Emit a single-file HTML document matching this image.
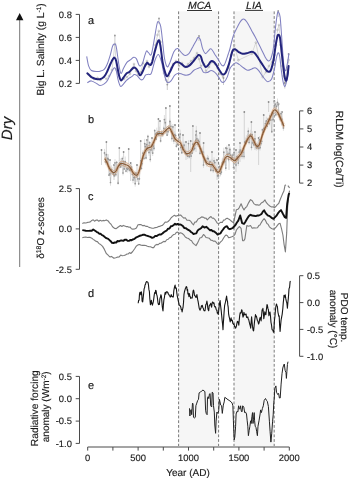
<!DOCTYPE html>
<html><head><meta charset="utf-8"><style>
html,body{margin:0;padding:0;background:#fff;width:350px;height:478px;overflow:hidden;}
svg{display:block;filter:blur(0.4px);}
text{text-rendering:geometricPrecision;font-family:"Liberation Sans",sans-serif;stroke:#1a1a1a;stroke-width:0.15px;}
</style></head><body>
<svg width="350" height="478" viewBox="0 0 350 478">
<rect x="178.6" y="11.4" width="40" height="434.6" fill="#f6f6f6"/>
<rect x="234" y="11.4" width="40.2" height="434.6" fill="#f6f6f6"/>
<line x1="178.6" y1="11.4" x2="178.6" y2="446" stroke="#7a7a7a" stroke-width="1" stroke-dasharray="2.8 1.9"/>
<line x1="218.6" y1="11.4" x2="218.6" y2="446" stroke="#7a7a7a" stroke-width="1" stroke-dasharray="2.8 1.9"/>
<line x1="234" y1="11.4" x2="234" y2="446" stroke="#7a7a7a" stroke-width="1" stroke-dasharray="2.8 1.9"/>
<line x1="274.2" y1="11.4" x2="274.2" y2="446" stroke="#7a7a7a" stroke-width="1" stroke-dasharray="2.8 1.9"/>
<path d="M88 74 L90.5 76.5 L94 79 L97.5 78 L100.5 80 L104 77 L106.5 79 L109 76 L112 70 L114.9 44 L116.5 70 L118.5 74 L121 80 L124 79 L127 77 L130 74 L132 69 L134 64 L136 71 L138 75 L141 72 L143 63 L145 65 L147 61 L149 67 L151 64 L153 57 L155.5 45 L157.5 35 L158.8 31 L160.5 42 L162 60 L164 73 L166 80 L167.5 82 L169 76 L171 68 L173 64 L176 61 L179 66 L182 63 L185 67 L188 64 L191 61 L194 58 L197 53 L199 59 L201 66 L204 64 L206 71 L209 67 L212 62 L215 64 L217.5 68 L220 74 L223 77 L226 72 L229 68 L231 55 L234.2 45.1 L238.4 60.2 L251.8 53.8 L255.9 42.6 L262.6 77 L266 72 L269 66 L272 62 L274.5 55 L276 45 L277.5 30 L279 25 L280.5 45 L282 66 L283.5 76 L285 83 L287 70 L288.5 60" fill="none" stroke="#c8c8c8" stroke-width="0.7"/>
<circle cx="88" cy="74" r="0.9" fill="none" stroke="#a0a0a0" stroke-width="0.5"/>
<circle cx="90.5" cy="76.5" r="0.9" fill="none" stroke="#a0a0a0" stroke-width="0.5"/>
<circle cx="94" cy="79" r="0.9" fill="none" stroke="#a0a0a0" stroke-width="0.5"/>
<circle cx="97.5" cy="78" r="0.9" fill="none" stroke="#a0a0a0" stroke-width="0.5"/>
<circle cx="100.5" cy="80" r="0.9" fill="none" stroke="#a0a0a0" stroke-width="0.5"/>
<circle cx="104" cy="77" r="0.9" fill="none" stroke="#a0a0a0" stroke-width="0.5"/>
<circle cx="106.5" cy="79" r="0.9" fill="none" stroke="#a0a0a0" stroke-width="0.5"/>
<circle cx="109" cy="76" r="0.9" fill="none" stroke="#a0a0a0" stroke-width="0.5"/>
<circle cx="112" cy="70" r="0.9" fill="none" stroke="#a0a0a0" stroke-width="0.5"/>
<circle cx="114.9" cy="44" r="0.9" fill="none" stroke="#a0a0a0" stroke-width="0.5"/>
<circle cx="116.5" cy="70" r="0.9" fill="none" stroke="#a0a0a0" stroke-width="0.5"/>
<circle cx="118.5" cy="74" r="0.9" fill="none" stroke="#a0a0a0" stroke-width="0.5"/>
<circle cx="121" cy="80" r="0.9" fill="none" stroke="#a0a0a0" stroke-width="0.5"/>
<circle cx="124" cy="79" r="0.9" fill="none" stroke="#a0a0a0" stroke-width="0.5"/>
<circle cx="127" cy="77" r="0.9" fill="none" stroke="#a0a0a0" stroke-width="0.5"/>
<circle cx="130" cy="74" r="0.9" fill="none" stroke="#a0a0a0" stroke-width="0.5"/>
<circle cx="132" cy="69" r="0.9" fill="none" stroke="#a0a0a0" stroke-width="0.5"/>
<circle cx="134" cy="64" r="0.9" fill="none" stroke="#a0a0a0" stroke-width="0.5"/>
<circle cx="136" cy="71" r="0.9" fill="none" stroke="#a0a0a0" stroke-width="0.5"/>
<circle cx="138" cy="75" r="0.9" fill="none" stroke="#a0a0a0" stroke-width="0.5"/>
<circle cx="141" cy="72" r="0.9" fill="none" stroke="#a0a0a0" stroke-width="0.5"/>
<circle cx="143" cy="63" r="0.9" fill="none" stroke="#a0a0a0" stroke-width="0.5"/>
<circle cx="145" cy="65" r="0.9" fill="none" stroke="#a0a0a0" stroke-width="0.5"/>
<circle cx="147" cy="61" r="0.9" fill="none" stroke="#a0a0a0" stroke-width="0.5"/>
<circle cx="149" cy="67" r="0.9" fill="none" stroke="#a0a0a0" stroke-width="0.5"/>
<circle cx="151" cy="64" r="0.9" fill="none" stroke="#a0a0a0" stroke-width="0.5"/>
<circle cx="153" cy="57" r="0.9" fill="none" stroke="#a0a0a0" stroke-width="0.5"/>
<circle cx="155.5" cy="45" r="0.9" fill="none" stroke="#a0a0a0" stroke-width="0.5"/>
<circle cx="157.5" cy="35" r="0.9" fill="none" stroke="#a0a0a0" stroke-width="0.5"/>
<circle cx="158.8" cy="31" r="0.9" fill="none" stroke="#a0a0a0" stroke-width="0.5"/>
<circle cx="160.5" cy="42" r="0.9" fill="none" stroke="#a0a0a0" stroke-width="0.5"/>
<circle cx="162" cy="60" r="0.9" fill="none" stroke="#a0a0a0" stroke-width="0.5"/>
<circle cx="164" cy="73" r="0.9" fill="none" stroke="#a0a0a0" stroke-width="0.5"/>
<circle cx="166" cy="80" r="0.9" fill="none" stroke="#a0a0a0" stroke-width="0.5"/>
<circle cx="167.5" cy="82" r="0.9" fill="none" stroke="#a0a0a0" stroke-width="0.5"/>
<circle cx="169" cy="76" r="0.9" fill="none" stroke="#a0a0a0" stroke-width="0.5"/>
<circle cx="171" cy="68" r="0.9" fill="none" stroke="#a0a0a0" stroke-width="0.5"/>
<circle cx="173" cy="64" r="0.9" fill="none" stroke="#a0a0a0" stroke-width="0.5"/>
<circle cx="176" cy="61" r="0.9" fill="none" stroke="#a0a0a0" stroke-width="0.5"/>
<circle cx="179" cy="66" r="0.9" fill="none" stroke="#a0a0a0" stroke-width="0.5"/>
<circle cx="182" cy="63" r="0.9" fill="none" stroke="#a0a0a0" stroke-width="0.5"/>
<circle cx="185" cy="67" r="0.9" fill="none" stroke="#a0a0a0" stroke-width="0.5"/>
<circle cx="188" cy="64" r="0.9" fill="none" stroke="#a0a0a0" stroke-width="0.5"/>
<circle cx="191" cy="61" r="0.9" fill="none" stroke="#a0a0a0" stroke-width="0.5"/>
<circle cx="194" cy="58" r="0.9" fill="none" stroke="#a0a0a0" stroke-width="0.5"/>
<circle cx="197" cy="53" r="0.9" fill="none" stroke="#a0a0a0" stroke-width="0.5"/>
<circle cx="199" cy="59" r="0.9" fill="none" stroke="#a0a0a0" stroke-width="0.5"/>
<circle cx="201" cy="66" r="0.9" fill="none" stroke="#a0a0a0" stroke-width="0.5"/>
<circle cx="204" cy="64" r="0.9" fill="none" stroke="#a0a0a0" stroke-width="0.5"/>
<circle cx="206" cy="71" r="0.9" fill="none" stroke="#a0a0a0" stroke-width="0.5"/>
<circle cx="209" cy="67" r="0.9" fill="none" stroke="#a0a0a0" stroke-width="0.5"/>
<circle cx="212" cy="62" r="0.9" fill="none" stroke="#a0a0a0" stroke-width="0.5"/>
<circle cx="215" cy="64" r="0.9" fill="none" stroke="#a0a0a0" stroke-width="0.5"/>
<circle cx="217.5" cy="68" r="0.9" fill="none" stroke="#a0a0a0" stroke-width="0.5"/>
<circle cx="220" cy="74" r="0.9" fill="none" stroke="#a0a0a0" stroke-width="0.5"/>
<circle cx="223" cy="77" r="0.9" fill="none" stroke="#a0a0a0" stroke-width="0.5"/>
<circle cx="226" cy="72" r="0.9" fill="none" stroke="#a0a0a0" stroke-width="0.5"/>
<circle cx="229" cy="68" r="0.9" fill="none" stroke="#a0a0a0" stroke-width="0.5"/>
<circle cx="231" cy="55" r="0.9" fill="none" stroke="#a0a0a0" stroke-width="0.5"/>
<circle cx="234.2" cy="45.1" r="0.9" fill="none" stroke="#a0a0a0" stroke-width="0.5"/>
<circle cx="238.4" cy="60.2" r="0.9" fill="none" stroke="#a0a0a0" stroke-width="0.5"/>
<circle cx="251.8" cy="53.8" r="0.9" fill="none" stroke="#a0a0a0" stroke-width="0.5"/>
<circle cx="255.9" cy="42.6" r="0.9" fill="none" stroke="#a0a0a0" stroke-width="0.5"/>
<circle cx="262.6" cy="77" r="0.9" fill="none" stroke="#a0a0a0" stroke-width="0.5"/>
<circle cx="266" cy="72" r="0.9" fill="none" stroke="#a0a0a0" stroke-width="0.5"/>
<circle cx="269" cy="66" r="0.9" fill="none" stroke="#a0a0a0" stroke-width="0.5"/>
<circle cx="272" cy="62" r="0.9" fill="none" stroke="#a0a0a0" stroke-width="0.5"/>
<circle cx="274.5" cy="55" r="0.9" fill="none" stroke="#a0a0a0" stroke-width="0.5"/>
<circle cx="276" cy="45" r="0.9" fill="none" stroke="#a0a0a0" stroke-width="0.5"/>
<circle cx="277.5" cy="30" r="0.9" fill="none" stroke="#a0a0a0" stroke-width="0.5"/>
<circle cx="279" cy="25" r="0.9" fill="none" stroke="#a0a0a0" stroke-width="0.5"/>
<circle cx="280.5" cy="45" r="0.9" fill="none" stroke="#a0a0a0" stroke-width="0.5"/>
<circle cx="282" cy="66" r="0.9" fill="none" stroke="#a0a0a0" stroke-width="0.5"/>
<circle cx="283.5" cy="76" r="0.9" fill="none" stroke="#a0a0a0" stroke-width="0.5"/>
<circle cx="285" cy="83" r="0.9" fill="none" stroke="#a0a0a0" stroke-width="0.5"/>
<circle cx="287" cy="70" r="0.9" fill="none" stroke="#a0a0a0" stroke-width="0.5"/>
<circle cx="288.5" cy="60" r="0.9" fill="none" stroke="#a0a0a0" stroke-width="0.5"/>
<line x1="114.9" y1="35.5" x2="114.9" y2="44" stroke="#c4c4c4" stroke-width="0.9"/>
<circle cx="114.9" cy="35.5" r="0.9" fill="#999"/>
<line x1="159" y1="18.5" x2="159" y2="24" stroke="#c4c4c4" stroke-width="0.9"/>
<circle cx="159" cy="18.5" r="0.9" fill="#999"/>
<line x1="167.3" y1="84.5" x2="167.3" y2="90" stroke="#c4c4c4" stroke-width="0.9"/>
<circle cx="167.3" cy="84.5" r="0.9" fill="#999"/>
<line x1="223.5" y1="78" x2="223.5" y2="85" stroke="#c4c4c4" stroke-width="0.9"/>
<circle cx="223.5" cy="78" r="0.9" fill="#999"/>
<line x1="284.8" y1="83" x2="284.8" y2="88.5" stroke="#c4c4c4" stroke-width="0.9"/>
<circle cx="284.8" cy="83" r="0.9" fill="#999"/>
<line x1="288.6" y1="54" x2="288.6" y2="63.4" stroke="#c4c4c4" stroke-width="0.9"/>
<circle cx="288.6" cy="54" r="0.9" fill="#999"/>
<line x1="278.2" y1="11" x2="278.2" y2="17" stroke="#c4c4c4" stroke-width="0.9"/>
<circle cx="278.2" cy="11" r="0.9" fill="#999"/>
<line x1="199" y1="36" x2="199" y2="41" stroke="#c4c4c4" stroke-width="0.9"/>
<circle cx="199" cy="36" r="0.9" fill="#999"/>
<path d="M86.7 56.4 C87 58 87.8 63.4 88.6 65.8 C89.4 68.1 90 69.5 91.4 70.5 C92.8 71.5 95.6 71.4 97 71.5 C98.4 71.6 98.8 71.7 100 71.3 C101.2 70.9 103 70.5 104.2 69.3 C105.4 68.1 106.3 66.5 107.3 64 C108.3 61.5 109.5 57.6 110.4 54.6 C111.3 51.6 111.9 48 112.5 46.3 C113.1 44.6 113.6 44.5 114.1 44.2 C114.6 43.9 115.3 43.8 115.7 44.7 C116.1 45.6 116.3 46.7 116.7 49.4 C117.1 52.1 117.8 57.4 118.3 60.9 C118.8 64.4 119.4 68.2 119.9 70.3 C120.4 72.4 120.8 73.7 121.4 73.4 C122 73.1 122.5 70.3 123.4 68.5 C124.3 66.7 125.8 63.8 126.9 62.4 C128.1 61 129.2 60.8 130.3 59.9 C131.4 59 132.7 57.5 133.7 57.3 C134.7 57.1 135.4 57.3 136.3 58.6 C137.2 59.9 138.2 63.8 138.9 65 C139.6 66.2 140 66.2 140.6 65.9 C141.2 65.6 142 64.7 142.7 62.9 C143.4 61.1 144.2 57.1 144.9 55.1 C145.6 53.1 146 51.3 146.6 50.9 C147.2 50.5 147.7 52.1 148.5 52.7 C149.3 53.3 150.4 56.5 151.3 54.5 C152.2 52.5 153.2 45.4 154.1 40.4 C155 35.4 156.2 27.6 156.9 24.5 C157.6 21.4 157.8 21.3 158.4 21.6 C159 21.9 160 23 160.7 26.3 C161.4 29.6 162 36.1 162.6 41.4 C163.2 46.7 163.7 54.1 164.5 58.3 C165.3 62.5 166.4 66.2 167.3 66.8 C168.2 67.4 169 64.6 170.1 62.1 C171.2 59.6 172.7 54 173.9 51.7 C175.2 49.4 176.3 48.3 177.6 48.5 C178.8 48.7 180.2 51.5 181.4 52.7 C182.7 53.9 183.8 55.4 185.1 55.5 C186.3 55.6 187.6 55 188.9 53.6 C190.2 52.2 191.4 49.2 192.7 47 C193.9 44.8 195.5 42 196.4 40.4 C197.3 38.8 197.3 37.8 198 37.6 C198.7 37.5 199.5 37.6 200.3 39.5 C201.1 41.4 201.8 46.5 202.7 48.9 C203.6 51.2 204.6 53.3 205.5 53.6 C206.4 53.9 207.4 51.6 208.3 50.8 C209.2 50 210.1 48.3 211.2 48.9 C212.3 49.5 213.7 52.6 214.9 54.5 C216.2 56.4 217.6 58.5 218.7 60.2 C219.8 61.9 220.6 64.1 221.5 64.9 C222.4 65.7 223.2 66.6 224.3 64.9 C225.4 63.2 227.2 57.2 228.1 54.5 C229 51.8 229.3 51.2 230 48.5 C230.7 45.8 231.8 41 232.5 38.5 C233.2 36 233.5 35.1 234.2 33.4 C234.9 31.7 235.9 30.1 236.7 28.4 C237.5 26.7 238.4 24.8 239.2 23.4 C240 22 240.9 20.7 241.7 20 C242.5 19.3 243.4 18.9 244.2 19.2 C245 19.5 245.9 20.6 246.7 21.7 C247.5 22.8 248.3 24.4 249.2 25.9 C250 27.4 250.8 29.1 251.8 30.9 C252.8 32.7 254 34.7 255.1 36.8 C256.2 38.9 257.4 41.3 258.5 43.5 C259.6 45.7 260.7 48 261.8 50.2 C262.9 52.4 264.1 55.1 265.1 56.9 C266.1 58.7 267.1 60.4 268 60.8 C268.9 61.2 269.8 60.8 270.5 59.5 C271.2 58.2 271.9 55.4 272.5 53 C273.1 50.6 273.3 49.1 273.8 45 C274.3 40.9 274.8 33.4 275.4 28.2 C276 23.1 276.8 16.8 277.3 14.1 C277.8 11.4 278.1 11.7 278.6 12.2 C279.1 12.7 279.6 13 280.1 16.9 C280.6 20.8 281.1 29.4 281.6 35.7 C282.1 42 282.5 49.2 282.9 54.5 C283.3 59.8 283.7 65 284.2 67.7 C284.7 70.4 285.1 71.4 285.7 70.5 C286.3 69.6 287.1 64.9 287.6 62.1 C288.1 59.3 288.7 55 288.9 53.6" fill="none" stroke="#8080c0" stroke-width="1.05" stroke-linejoin="round"/>
<path d="M87.3 82.8 C88 82.5 89.8 80.8 91.4 80.9 C93 81.1 95.6 82.9 97 83.7 C98.4 84.5 98.8 85.5 100 85.5 C101.2 85.5 103 84.7 104.2 83.9 C105.4 83.1 106.3 82.4 107.3 80.8 C108.3 79.2 109.4 76.4 110.4 74.5 C111.4 72.6 112.4 70.4 113.1 69.3 C113.8 68.2 114.1 67.5 114.6 67.7 C115.1 67.9 115.7 68.5 116.2 70.3 C116.7 72.1 117.3 76.4 117.8 78.7 C118.3 81 118.8 82.6 119.3 83.9 C119.8 85.2 120.1 86.4 120.8 86.4 C121.5 86.4 122.7 84.9 123.6 83.9 C124.5 82.9 125.5 81.4 126.4 80.4 C127.4 79.4 128.4 78.8 129.3 78.1 C130.2 77.4 131.3 77 132.1 76.4 C132.9 75.8 133.4 74.7 134.2 74.6 C135 74.5 136 74.9 137.1 75.7 C138.2 76.5 139.6 79 140.6 79.6 C141.6 80.2 142.2 79.9 143.1 79.1 C143.9 78.3 144.8 75.7 145.7 74.9 C146.6 74.1 147.6 74.6 148.5 74.3 C149.4 74 150.2 75.6 151.3 73.3 C152.4 71 153.8 63.3 155 60.2 C156.2 57.1 157.3 54.2 158.4 54.5 C159.5 54.8 160.8 59.3 161.6 62.1 C162.4 64.9 162.7 68.4 163.5 71.5 C164.3 74.6 165.5 79 166.3 80.9 C167.1 82.8 167.4 82.8 168.2 82.8 C169 82.8 169.9 82.2 171 80.9 C172.1 79.6 173.5 76.5 174.8 75.2 C176.1 73.9 177.3 73.5 178.6 73.3 C179.8 73.1 181.1 74 182.3 74.3 C183.6 74.6 184.8 75.2 186.1 75.2 C187.3 75.2 188.6 75.1 189.8 74.3 C191.1 73.5 192.3 71.5 193.6 70.5 C194.9 69.5 196.2 69.1 197.4 68.6 C198.6 68.1 199.8 67.1 200.8 67.7 C201.8 68.3 202.5 71.6 203.6 72.4 C204.7 73.2 206.1 72.7 207.4 72.4 C208.7 72.1 209.9 70.5 211.2 70.5 C212.4 70.5 213.7 71.3 214.9 72.4 C216.2 73.5 217.6 75.5 218.7 77.1 C219.8 78.7 220.6 81 221.5 81.8 C222.4 82.6 223.4 82.6 224.3 81.8 C225.2 81 226.2 79.3 227.2 77.1 C228.1 74.9 229.1 70.6 230 68.6 C230.9 66.6 231.5 66.2 232.5 65.2 C233.5 64.2 234.8 62.8 235.9 62.7 C237 62.6 237.9 63.6 239.2 64.4 C240.4 65.2 242 66.7 243.4 67.7 C244.8 68.7 246.2 70.1 247.6 70.3 C249 70.5 250.6 69.3 251.8 68.9 C253.1 68.5 254 67.5 255.1 67.7 C256.2 67.9 257.4 69 258.5 70.3 C259.6 71.6 260.7 73.8 261.8 75.3 C262.9 76.8 264.1 78.4 265.1 79.5 C266.1 80.6 266.8 81.9 267.9 81.8 C269 81.7 270.5 81.2 271.6 79 C272.7 76.8 273.7 72 274.5 68.6 C275.3 65.1 275.7 60.9 276.3 58.3 C276.9 55.6 277.6 53 278.2 52.7 C278.8 52.4 279.2 53.9 279.7 56.4 C280.2 58.9 280.5 63.6 281 67.7 C281.5 71.8 282.3 77.8 282.9 80.9 C283.5 84 284.2 86.5 284.8 86.5 C285.4 86.5 286.1 83.4 286.7 80.9 C287.3 78.4 288.3 73.1 288.6 71.5" fill="none" stroke="#8080c0" stroke-width="1.05" stroke-linejoin="round"/>
<path d="M87.3 73.3 C88 73.9 90 76.1 91.4 77.1 C92.9 78 94.6 78.7 96 79 C97.4 79.3 98.6 79.6 100 79.2 C101.4 78.8 103 77.9 104.2 76.6 C105.4 75.3 106.3 73.4 107.3 71.3 C108.3 69.2 109.4 66.1 110.4 64 C111.4 61.9 112.4 59.8 113.1 58.8 C113.8 57.8 114.1 57.4 114.6 57.8 C115.1 58.1 115.7 59 116.2 60.9 C116.7 62.8 117.3 66.7 117.8 69.3 C118.3 71.9 118.8 74.8 119.3 76.6 C119.8 78.4 120.4 80.3 121.1 80.4 C121.8 80.5 122.7 78.4 123.6 77.3 C124.5 76.2 125.5 74.5 126.4 73.6 C127.4 72.7 128.4 72.7 129.3 71.9 C130.2 71.1 131.3 69.7 132.1 69 C132.9 68.3 133.3 67.6 133.9 67.5 C134.5 67.4 135.2 67.8 135.9 68.4 C136.6 69.1 137.3 70.2 138 71.4 C138.7 72.6 139.4 75.2 140.1 75.3 C140.8 75.4 141.5 73.8 142.3 72.3 C143.1 70.8 144.1 67.9 144.9 66.3 C145.7 64.7 146.4 63.3 147 62.9 C147.6 62.5 148.1 63.7 148.7 64.1 C149.3 64.4 149.9 65.3 150.5 65 C151.1 64.7 151.4 64.5 152.2 62.1 C152.9 59.7 154 54.4 155 50.8 C156 47.2 157.5 41.3 158.4 40.4 C159.3 39.5 159.6 41.5 160.3 45.1 C161 48.7 161.8 57.4 162.6 62.1 C163.4 66.8 164.6 71 165.4 73.3 C166.2 75.6 166.5 76.5 167.3 76.2 C168.1 75.9 169 73.5 170.1 71.5 C171.2 69.5 172.7 65.5 173.9 63.9 C175.2 62.3 176.3 62.1 177.6 62.1 C178.8 62.1 180.2 63.1 181.4 63.9 C182.7 64.7 183.8 66.5 185.1 66.8 C186.3 67.1 187.6 66.6 188.9 65.8 C190.2 65 191.4 63.5 192.7 62.1 C193.9 60.7 195.4 58.6 196.4 57.4 C197.4 56.2 197.8 55.2 198.5 55 C199.2 54.8 200.1 55.2 200.8 56.4 C201.5 57.6 201.9 60.4 202.7 62.1 C203.5 63.8 204.6 66.3 205.5 66.8 C206.4 67.3 207.4 65.9 208.3 64.9 C209.2 64 210.2 61.6 211.2 61.1 C212.1 60.6 213.1 61.3 214 62.1 C214.9 62.9 215.9 64.4 216.8 65.8 C217.7 67.2 218.7 69.1 219.6 70.5 C220.5 71.9 221.4 73.8 222.4 74.3 C223.4 74.8 224.2 75 225.3 73.3 C226.4 71.6 227.8 67.6 229 63.9 C230.2 60.2 231.5 53.4 232.5 51 C233.5 48.6 234 49.2 235 49.3 C236 49.4 237.1 51 238.4 51.8 C239.7 52.5 241.2 53.6 242.6 53.8 C244 54 245.2 53.5 246.7 53.2 C248.2 52.9 250.4 51.8 251.8 51.8 C253.2 51.8 254 52.4 255.1 53.5 C256.2 54.6 257.4 56.8 258.5 58.5 C259.6 60.2 260.7 61.9 261.8 63.6 C262.9 65.3 264.1 67.3 265.1 68.6 C266.1 69.9 267 71.2 267.9 71.5 C268.8 71.8 269.8 72.4 270.7 70.5 C271.6 68.6 272.7 64.1 273.5 60.2 C274.3 56.3 274.8 50.9 275.4 47 C276 43.1 276.8 38.7 277.3 36.7 C277.8 34.7 278.2 34.6 278.6 34.8 C279.1 34.9 279.5 34.9 280 37.6 C280.5 40.3 281 46.4 281.5 50.8 C282 55.2 282.5 59.8 283 64 C283.5 68.2 284 73.2 284.5 76 C285 78.8 285.4 80.7 285.9 80.8 C286.4 80.9 286.9 79 287.3 76.5 C287.8 74 288.4 67.8 288.6 66" fill="none" stroke="#23247c" stroke-width="2.0" stroke-linejoin="round" stroke-linecap="round"/>
<path d="M104.9 159 C105.2 159.6 106.2 161 106.9 162.4 C107.6 163.8 108.3 166.2 109.1 167.6 C109.8 169 110.6 170.2 111.4 171 C112.2 171.8 112.9 172.7 113.7 172.7 C114.5 172.7 115.2 172.1 116 171 C116.8 169.9 117.5 167.6 118.3 166.4 C119.1 165.2 119.8 164.1 120.6 163.6 C121.4 163.1 122.1 163.4 122.9 163.6 C123.8 163.8 124.8 164.3 125.7 164.7 C126.7 165.1 127.7 165.2 128.6 165.9 C129.5 166.6 130.2 167.6 130.9 168.7 C131.7 169.8 132.3 171.6 133.1 172.7 C133.8 173.8 134.6 174.7 135.4 175 C136.2 175.3 136.9 175.5 137.7 174.4 C138.5 173.3 139.2 171.2 140 168.3 C140.8 165.4 141.9 160.1 142.8 157.1 C143.7 154.1 144.7 152.1 145.6 150.5 C146.5 148.9 147.6 148.3 148.5 147.7 C149.4 147.1 150.4 147.8 151.3 146.7 C152.2 145.6 153.2 143.1 154.1 141.1 C155 139.1 156 135.8 156.9 134.5 C157.8 133.2 158.8 133.8 159.7 133.6 C160.6 133.4 161.6 134.1 162.6 133.6 C163.6 133.1 164.3 131.6 165.4 130.7 C166.5 129.8 168.1 127.6 169.2 127.9 C170.3 128.2 171.1 130.9 172 132.6 C172.9 134.3 173.9 136.9 174.8 138.3 C175.7 139.7 176.7 140.3 177.6 141.1 C178.5 141.9 179.4 141.6 180.4 143 C181.4 144.4 182.4 147.8 183.3 149.5 C184.2 151.2 185.2 152.7 186.1 153.3 C187 153.9 188 153.8 188.9 153.3 C189.8 152.8 190.8 152.1 191.7 150.5 C192.6 148.9 193.6 145.2 194.5 143.9 C195.4 142.6 196.3 141.6 197.4 142.5 C198.5 143.4 199.8 147.1 200.8 149.5 C201.8 151.9 202.7 154.9 203.6 157.1 C204.5 159.3 205.6 161.4 206.5 162.7 C207.4 163.9 208.4 164.3 209.3 164.6 C210.2 164.9 211.2 164 212.1 164.6 C213 165.2 214 167.1 214.9 168.3 C215.8 169.6 216.9 171.6 217.7 172.1 C218.5 172.6 218.8 172.4 219.6 171.2 C220.4 169.9 221.4 166.8 222.4 164.6 C223.4 162.4 224.4 159.4 225.3 158 C226.2 156.6 226.7 156.3 227.6 156.3 C228.5 156.3 229.7 157.2 230.9 158 C232.1 158.8 233.6 160.8 234.7 160.8 C235.8 160.8 236.4 159.2 237.5 158 C238.6 156.8 240.2 155.2 241.3 153.3 C242.4 151.4 243.3 148.7 244.2 146.6 C245.1 144.5 246 142.3 246.9 140.6 C247.8 138.9 248.8 137.3 249.5 136.6 C250.2 135.9 250.7 135.5 251.4 136.2 C252.1 136.9 253.1 139.4 253.8 140.8 C254.5 142.2 255 143.5 255.6 144.5 C256.2 145.5 256.7 146.6 257.3 146.6 C257.9 146.6 258.6 146.4 259.4 144.6 C260.2 142.8 261.3 138.2 262.2 135.5 C263.1 132.8 264.1 130.5 265 128.3 C265.9 126.1 266.9 124.5 267.9 122.5 C268.8 120.5 269.9 118.3 270.7 116.6 C271.5 114.9 272 113.4 272.6 112.3 C273.2 111.2 273.7 110.3 274.3 110 C274.9 109.7 275.6 110 276.2 110.6 C276.8 111.2 277.5 112.1 278.2 113.4 C278.9 114.7 279.8 116.7 280.5 118.2 C281.2 119.7 281.7 121 282.3 122.3 C282.9 123.6 283.6 125.4 283.9 126" fill="none" stroke="#fcf3ea" stroke-width="4.4"/>
<line x1="106.4" y1="142" x2="106.4" y2="155" stroke="#d0d0d0" stroke-width="0.9"/>
<circle cx="106.4" cy="142" r="0.9" fill="#8a8a8a"/>
<line x1="119.3" y1="148" x2="119.3" y2="161" stroke="#d0d0d0" stroke-width="0.9"/>
<circle cx="119.3" cy="148" r="0.9" fill="#8a8a8a"/>
<line x1="123.6" y1="152" x2="123.6" y2="159" stroke="#d0d0d0" stroke-width="0.9"/>
<circle cx="123.6" cy="152" r="0.9" fill="#8a8a8a"/>
<line x1="128.7" y1="149" x2="128.7" y2="164" stroke="#d0d0d0" stroke-width="0.9"/>
<circle cx="128.7" cy="149" r="0.9" fill="#8a8a8a"/>
<line x1="140.7" y1="141" x2="140.7" y2="161" stroke="#d0d0d0" stroke-width="0.9"/>
<circle cx="140.7" cy="141" r="0.9" fill="#8a8a8a"/>
<line x1="130.7" y1="163" x2="130.7" y2="181" stroke="#d0d0d0" stroke-width="0.9"/>
<circle cx="130.7" cy="163" r="0.9" fill="#8a8a8a"/>
<line x1="158.4" y1="119" x2="158.4" y2="132" stroke="#d0d0d0" stroke-width="0.9"/>
<circle cx="158.4" cy="119" r="0.9" fill="#8a8a8a"/>
<line x1="165.9" y1="108" x2="165.9" y2="129" stroke="#d0d0d0" stroke-width="0.9"/>
<circle cx="165.9" cy="108" r="0.9" fill="#8a8a8a"/>
<line x1="169.9" y1="106" x2="169.9" y2="126" stroke="#d0d0d0" stroke-width="0.9"/>
<circle cx="169.9" cy="106" r="0.9" fill="#8a8a8a"/>
<line x1="190.7" y1="141" x2="190.7" y2="172" stroke="#d0d0d0" stroke-width="0.9"/>
<circle cx="190.7" cy="141" r="0.9" fill="#8a8a8a"/>
<line x1="192.9" y1="126" x2="192.9" y2="146" stroke="#d0d0d0" stroke-width="0.9"/>
<circle cx="192.9" cy="126" r="0.9" fill="#8a8a8a"/>
<line x1="244.3" y1="112" x2="244.3" y2="144" stroke="#d0d0d0" stroke-width="0.9"/>
<circle cx="244.3" cy="112" r="0.9" fill="#8a8a8a"/>
<line x1="251.4" y1="122" x2="251.4" y2="135" stroke="#d0d0d0" stroke-width="0.9"/>
<circle cx="251.4" cy="122" r="0.9" fill="#8a8a8a"/>
<line x1="258.6" y1="138" x2="258.6" y2="165" stroke="#d0d0d0" stroke-width="0.9"/>
<circle cx="258.6" cy="138" r="0.9" fill="#8a8a8a"/>
<line x1="263.7" y1="115" x2="263.7" y2="132" stroke="#d0d0d0" stroke-width="0.9"/>
<circle cx="263.7" cy="115" r="0.9" fill="#8a8a8a"/>
<line x1="268.6" y1="102" x2="268.6" y2="112" stroke="#d0d0d0" stroke-width="0.9"/>
<circle cx="268.6" cy="102" r="0.9" fill="#8a8a8a"/>
<line x1="274.3" y1="101" x2="274.3" y2="106" stroke="#d0d0d0" stroke-width="0.9"/>
<circle cx="274.3" cy="101" r="0.9" fill="#8a8a8a"/>
<line x1="278.6" y1="104" x2="278.6" y2="112" stroke="#d0d0d0" stroke-width="0.9"/>
<circle cx="278.6" cy="104" r="0.9" fill="#8a8a8a"/>
<line x1="110" y1="160" x2="110" y2="176" stroke="#d0d0d0" stroke-width="0.9"/>
<circle cx="110" cy="160" r="0.9" fill="#8a8a8a"/>
<line x1="114" y1="165" x2="114" y2="180" stroke="#d0d0d0" stroke-width="0.9"/>
<circle cx="114" cy="165" r="0.9" fill="#8a8a8a"/>
<line x1="137" y1="165" x2="137" y2="182" stroke="#d0d0d0" stroke-width="0.9"/>
<circle cx="137" cy="165" r="0.9" fill="#8a8a8a"/>
<line x1="147" y1="140" x2="147" y2="152" stroke="#d0d0d0" stroke-width="0.9"/>
<circle cx="147" cy="140" r="0.9" fill="#8a8a8a"/>
<line x1="152" y1="138" x2="152" y2="150" stroke="#d0d0d0" stroke-width="0.9"/>
<circle cx="152" cy="138" r="0.9" fill="#8a8a8a"/>
<line x1="160" y1="121" x2="160" y2="130" stroke="#d0d0d0" stroke-width="0.9"/>
<circle cx="160" cy="121" r="0.9" fill="#8a8a8a"/>
<line x1="183" y1="135" x2="183" y2="150" stroke="#d0d0d0" stroke-width="0.9"/>
<circle cx="183" cy="135" r="0.9" fill="#8a8a8a"/>
<line x1="200" y1="133" x2="200" y2="150" stroke="#d0d0d0" stroke-width="0.9"/>
<circle cx="200" cy="133" r="0.9" fill="#8a8a8a"/>
<line x1="203.6" y1="143" x2="203.6" y2="159" stroke="#d0d0d0" stroke-width="0.9"/>
<circle cx="203.6" cy="143" r="0.9" fill="#8a8a8a"/>
<line x1="212" y1="152" x2="212" y2="170" stroke="#d0d0d0" stroke-width="0.9"/>
<circle cx="212" cy="152" r="0.9" fill="#8a8a8a"/>
<line x1="217" y1="160" x2="217" y2="180" stroke="#d0d0d0" stroke-width="0.9"/>
<circle cx="217" cy="160" r="0.9" fill="#8a8a8a"/>
<line x1="226" y1="148" x2="226" y2="166" stroke="#d0d0d0" stroke-width="0.9"/>
<circle cx="226" cy="148" r="0.9" fill="#8a8a8a"/>
<line x1="229" y1="145" x2="229" y2="170" stroke="#d0d0d0" stroke-width="0.9"/>
<circle cx="229" cy="145" r="0.9" fill="#8a8a8a"/>
<line x1="236" y1="150" x2="236" y2="172" stroke="#d0d0d0" stroke-width="0.9"/>
<circle cx="236" cy="150" r="0.9" fill="#8a8a8a"/>
<line x1="240" y1="143" x2="240" y2="162" stroke="#d0d0d0" stroke-width="0.9"/>
<circle cx="240" cy="143" r="0.9" fill="#8a8a8a"/>
<line x1="255" y1="132" x2="255" y2="150" stroke="#d0d0d0" stroke-width="0.9"/>
<circle cx="255" cy="132" r="0.9" fill="#8a8a8a"/>
<line x1="282" y1="112" x2="282" y2="126" stroke="#d0d0d0" stroke-width="0.9"/>
<circle cx="282" cy="112" r="0.9" fill="#8a8a8a"/>
<line x1="101.5" y1="150" x2="101.5" y2="165" stroke="#d0d0d0" stroke-width="0.9"/>
<circle cx="101.5" cy="150" r="0.9" fill="#8a8a8a"/>
<line x1="175" y1="125" x2="175" y2="140" stroke="#d0d0d0" stroke-width="0.9"/>
<circle cx="175" cy="125" r="0.9" fill="#8a8a8a"/>
<line x1="186" y1="142" x2="186" y2="160" stroke="#d0d0d0" stroke-width="0.9"/>
<circle cx="186" cy="142" r="0.9" fill="#8a8a8a"/>
<line x1="196" y1="135" x2="196" y2="152" stroke="#d0d0d0" stroke-width="0.9"/>
<circle cx="196" cy="135" r="0.9" fill="#8a8a8a"/>
<line x1="104.5" y1="148.9" x2="104.5" y2="155.3" stroke="#d6d6d6" stroke-width="0.8"/>
<line x1="105.5" y1="157.5" x2="105.5" y2="164.6" stroke="#d6d6d6" stroke-width="0.8"/>
<line x1="106.3" y1="150" x2="106.3" y2="157.5" stroke="#d6d6d6" stroke-width="0.8"/>
<line x1="106.9" y1="156.9" x2="106.9" y2="165.3" stroke="#d6d6d6" stroke-width="0.8"/>
<line x1="107.7" y1="153.9" x2="107.7" y2="161" stroke="#d6d6d6" stroke-width="0.8"/>
<line x1="108.3" y1="154.2" x2="108.3" y2="162.5" stroke="#d6d6d6" stroke-width="0.8"/>
<line x1="109" y1="173.5" x2="109" y2="176.1" stroke="#d6d6d6" stroke-width="0.8"/>
<line x1="109.9" y1="170.4" x2="109.9" y2="175.8" stroke="#d6d6d6" stroke-width="0.8"/>
<line x1="110.5" y1="177.3" x2="110.5" y2="185.7" stroke="#d6d6d6" stroke-width="0.8"/>
<line x1="111.4" y1="165.4" x2="111.4" y2="172" stroke="#d6d6d6" stroke-width="0.8"/>
<line x1="112.2" y1="167" x2="112.2" y2="175.2" stroke="#d6d6d6" stroke-width="0.8"/>
<line x1="113.1" y1="171" x2="113.1" y2="174.1" stroke="#d6d6d6" stroke-width="0.8"/>
<line x1="113.6" y1="170.6" x2="113.6" y2="176" stroke="#d6d6d6" stroke-width="0.8"/>
<line x1="114.2" y1="173.3" x2="114.2" y2="177.3" stroke="#d6d6d6" stroke-width="0.8"/>
<line x1="115" y1="159.1" x2="115" y2="165" stroke="#d6d6d6" stroke-width="0.8"/>
<line x1="115.8" y1="170.9" x2="115.8" y2="176.9" stroke="#d6d6d6" stroke-width="0.8"/>
<line x1="116.7" y1="160.7" x2="116.7" y2="163.2" stroke="#d6d6d6" stroke-width="0.8"/>
<line x1="117.4" y1="165.8" x2="117.4" y2="169.5" stroke="#d6d6d6" stroke-width="0.8"/>
<line x1="118.1" y1="180.6" x2="118.1" y2="184.8" stroke="#d6d6d6" stroke-width="0.8"/>
<line x1="119.1" y1="160" x2="119.1" y2="168.3" stroke="#d6d6d6" stroke-width="0.8"/>
<line x1="120" y1="158.3" x2="120" y2="165.6" stroke="#d6d6d6" stroke-width="0.8"/>
<line x1="120.7" y1="164.8" x2="120.7" y2="168.2" stroke="#d6d6d6" stroke-width="0.8"/>
<line x1="121.3" y1="159.4" x2="121.3" y2="166.9" stroke="#d6d6d6" stroke-width="0.8"/>
<line x1="122.3" y1="156.5" x2="122.3" y2="159.8" stroke="#d6d6d6" stroke-width="0.8"/>
<line x1="123" y1="169" x2="123" y2="175.4" stroke="#d6d6d6" stroke-width="0.8"/>
<line x1="123.6" y1="159.3" x2="123.6" y2="162.5" stroke="#d6d6d6" stroke-width="0.8"/>
<line x1="124.2" y1="167.4" x2="124.2" y2="169.8" stroke="#d6d6d6" stroke-width="0.8"/>
<line x1="125.2" y1="156.5" x2="125.2" y2="164.5" stroke="#d6d6d6" stroke-width="0.8"/>
<line x1="126" y1="168.8" x2="126" y2="172.5" stroke="#d6d6d6" stroke-width="0.8"/>
<line x1="126.9" y1="166" x2="126.9" y2="169.7" stroke="#d6d6d6" stroke-width="0.8"/>
<line x1="127.6" y1="163.9" x2="127.6" y2="172.6" stroke="#d6d6d6" stroke-width="0.8"/>
<line x1="128.7" y1="163.3" x2="128.7" y2="171.3" stroke="#d6d6d6" stroke-width="0.8"/>
<line x1="129.6" y1="167.2" x2="129.6" y2="171.5" stroke="#d6d6d6" stroke-width="0.8"/>
<line x1="130.2" y1="165" x2="130.2" y2="173.6" stroke="#d6d6d6" stroke-width="0.8"/>
<line x1="130.8" y1="165.8" x2="130.8" y2="171.6" stroke="#d6d6d6" stroke-width="0.8"/>
<line x1="131.6" y1="162.8" x2="131.6" y2="169.5" stroke="#d6d6d6" stroke-width="0.8"/>
<line x1="132.4" y1="172" x2="132.4" y2="175.7" stroke="#d6d6d6" stroke-width="0.8"/>
<line x1="133" y1="174.8" x2="133" y2="183.2" stroke="#d6d6d6" stroke-width="0.8"/>
<line x1="133.9" y1="173.1" x2="133.9" y2="179.9" stroke="#d6d6d6" stroke-width="0.8"/>
<line x1="134.5" y1="172.2" x2="134.5" y2="180.8" stroke="#d6d6d6" stroke-width="0.8"/>
<line x1="135.2" y1="178.6" x2="135.2" y2="186.7" stroke="#d6d6d6" stroke-width="0.8"/>
<line x1="135.9" y1="170.5" x2="135.9" y2="174.8" stroke="#d6d6d6" stroke-width="0.8"/>
<line x1="136.9" y1="172.9" x2="136.9" y2="177.6" stroke="#d6d6d6" stroke-width="0.8"/>
<line x1="137.9" y1="176.6" x2="137.9" y2="180.1" stroke="#d6d6d6" stroke-width="0.8"/>
<line x1="138.7" y1="181.7" x2="138.7" y2="185.1" stroke="#d6d6d6" stroke-width="0.8"/>
<line x1="139.4" y1="177" x2="139.4" y2="179.8" stroke="#d6d6d6" stroke-width="0.8"/>
<line x1="140.1" y1="165.9" x2="140.1" y2="170.3" stroke="#d6d6d6" stroke-width="0.8"/>
<line x1="140.8" y1="156.9" x2="140.8" y2="163.1" stroke="#d6d6d6" stroke-width="0.8"/>
<line x1="141.4" y1="166.9" x2="141.4" y2="169.4" stroke="#d6d6d6" stroke-width="0.8"/>
<line x1="142" y1="159.5" x2="142" y2="166.3" stroke="#d6d6d6" stroke-width="0.8"/>
<line x1="142.9" y1="150.3" x2="142.9" y2="154.8" stroke="#d6d6d6" stroke-width="0.8"/>
<line x1="143.9" y1="155.7" x2="143.9" y2="160.1" stroke="#d6d6d6" stroke-width="0.8"/>
<line x1="144.7" y1="138.9" x2="144.7" y2="146.5" stroke="#d6d6d6" stroke-width="0.8"/>
<line x1="145.3" y1="143.2" x2="145.3" y2="148.6" stroke="#d6d6d6" stroke-width="0.8"/>
<line x1="146" y1="155.1" x2="146" y2="159.5" stroke="#d6d6d6" stroke-width="0.8"/>
<line x1="146.6" y1="141" x2="146.6" y2="146.5" stroke="#d6d6d6" stroke-width="0.8"/>
<line x1="147.3" y1="143.8" x2="147.3" y2="150.7" stroke="#d6d6d6" stroke-width="0.8"/>
<line x1="147.9" y1="134.7" x2="147.9" y2="137.4" stroke="#d6d6d6" stroke-width="0.8"/>
<line x1="149" y1="147.2" x2="149" y2="155.8" stroke="#d6d6d6" stroke-width="0.8"/>
<line x1="149.7" y1="141.1" x2="149.7" y2="143.6" stroke="#d6d6d6" stroke-width="0.8"/>
<line x1="150.3" y1="155" x2="150.3" y2="162.2" stroke="#d6d6d6" stroke-width="0.8"/>
<line x1="151" y1="145" x2="151" y2="152.8" stroke="#d6d6d6" stroke-width="0.8"/>
<line x1="151.9" y1="143.5" x2="151.9" y2="146" stroke="#d6d6d6" stroke-width="0.8"/>
<line x1="152.7" y1="148.5" x2="152.7" y2="155.9" stroke="#d6d6d6" stroke-width="0.8"/>
<line x1="153.4" y1="143.1" x2="153.4" y2="147.8" stroke="#d6d6d6" stroke-width="0.8"/>
<line x1="154" y1="144.6" x2="154" y2="150.7" stroke="#d6d6d6" stroke-width="0.8"/>
<line x1="154.7" y1="129.1" x2="154.7" y2="131.5" stroke="#d6d6d6" stroke-width="0.8"/>
<line x1="155.5" y1="132.4" x2="155.5" y2="135.1" stroke="#d6d6d6" stroke-width="0.8"/>
<line x1="156.2" y1="136.8" x2="156.2" y2="140.3" stroke="#d6d6d6" stroke-width="0.8"/>
<line x1="156.8" y1="127.7" x2="156.8" y2="136.3" stroke="#d6d6d6" stroke-width="0.8"/>
<line x1="157.5" y1="130.4" x2="157.5" y2="134" stroke="#d6d6d6" stroke-width="0.8"/>
<line x1="158.1" y1="130.2" x2="158.1" y2="137.4" stroke="#d6d6d6" stroke-width="0.8"/>
<line x1="158.9" y1="126.3" x2="158.9" y2="134.6" stroke="#d6d6d6" stroke-width="0.8"/>
<line x1="159.6" y1="127.2" x2="159.6" y2="135.6" stroke="#d6d6d6" stroke-width="0.8"/>
<line x1="160.6" y1="138" x2="160.6" y2="142.6" stroke="#d6d6d6" stroke-width="0.8"/>
<line x1="161.5" y1="129.8" x2="161.5" y2="134.5" stroke="#d6d6d6" stroke-width="0.8"/>
<line x1="162.3" y1="130.9" x2="162.3" y2="136.6" stroke="#d6d6d6" stroke-width="0.8"/>
<line x1="162.9" y1="129.7" x2="162.9" y2="137.1" stroke="#d6d6d6" stroke-width="0.8"/>
<line x1="163.9" y1="126.5" x2="163.9" y2="129.5" stroke="#d6d6d6" stroke-width="0.8"/>
<line x1="164.4" y1="115" x2="164.4" y2="122.2" stroke="#d6d6d6" stroke-width="0.8"/>
<line x1="165.3" y1="118.1" x2="165.3" y2="125.6" stroke="#d6d6d6" stroke-width="0.8"/>
<line x1="166" y1="126.2" x2="166" y2="134.1" stroke="#d6d6d6" stroke-width="0.8"/>
<line x1="167.1" y1="133.4" x2="167.1" y2="136.1" stroke="#d6d6d6" stroke-width="0.8"/>
<line x1="168" y1="126.4" x2="168" y2="134.8" stroke="#d6d6d6" stroke-width="0.8"/>
<line x1="169" y1="125.6" x2="169" y2="128.5" stroke="#d6d6d6" stroke-width="0.8"/>
<line x1="169.9" y1="118.5" x2="169.9" y2="123.1" stroke="#d6d6d6" stroke-width="0.8"/>
<line x1="170.9" y1="122.3" x2="170.9" y2="128.7" stroke="#d6d6d6" stroke-width="0.8"/>
<line x1="171.9" y1="133.4" x2="171.9" y2="141.7" stroke="#d6d6d6" stroke-width="0.8"/>
<line x1="172.9" y1="124" x2="172.9" y2="128.5" stroke="#d6d6d6" stroke-width="0.8"/>
<line x1="173.9" y1="135.7" x2="173.9" y2="144" stroke="#d6d6d6" stroke-width="0.8"/>
<line x1="174.7" y1="131" x2="174.7" y2="136.9" stroke="#d6d6d6" stroke-width="0.8"/>
<line x1="175.6" y1="132.9" x2="175.6" y2="137.3" stroke="#d6d6d6" stroke-width="0.8"/>
<line x1="176.4" y1="143.4" x2="176.4" y2="147.9" stroke="#d6d6d6" stroke-width="0.8"/>
<line x1="177.5" y1="142.2" x2="177.5" y2="145.8" stroke="#d6d6d6" stroke-width="0.8"/>
<line x1="178.5" y1="139.2" x2="178.5" y2="142.1" stroke="#d6d6d6" stroke-width="0.8"/>
<line x1="179.4" y1="135.3" x2="179.4" y2="138.7" stroke="#d6d6d6" stroke-width="0.8"/>
<line x1="180.2" y1="129.7" x2="180.2" y2="136.6" stroke="#d6d6d6" stroke-width="0.8"/>
<line x1="180.8" y1="142" x2="180.8" y2="150.7" stroke="#d6d6d6" stroke-width="0.8"/>
<line x1="181.8" y1="150.6" x2="181.8" y2="154" stroke="#d6d6d6" stroke-width="0.8"/>
<line x1="182.5" y1="147.4" x2="182.5" y2="150.1" stroke="#d6d6d6" stroke-width="0.8"/>
<line x1="183.2" y1="142" x2="183.2" y2="150.7" stroke="#d6d6d6" stroke-width="0.8"/>
<line x1="184.1" y1="141.3" x2="184.1" y2="147.2" stroke="#d6d6d6" stroke-width="0.8"/>
<line x1="185.1" y1="148.8" x2="185.1" y2="153.8" stroke="#d6d6d6" stroke-width="0.8"/>
<line x1="185.8" y1="151.2" x2="185.8" y2="155.1" stroke="#d6d6d6" stroke-width="0.8"/>
<line x1="186.7" y1="150.3" x2="186.7" y2="156.5" stroke="#d6d6d6" stroke-width="0.8"/>
<line x1="187.7" y1="151.4" x2="187.7" y2="159.1" stroke="#d6d6d6" stroke-width="0.8"/>
<line x1="188.5" y1="140.1" x2="188.5" y2="145.4" stroke="#d6d6d6" stroke-width="0.8"/>
<line x1="189.3" y1="153.5" x2="189.3" y2="158.6" stroke="#d6d6d6" stroke-width="0.8"/>
<line x1="190.1" y1="152" x2="190.1" y2="154.8" stroke="#d6d6d6" stroke-width="0.8"/>
<line x1="191.1" y1="151" x2="191.1" y2="159.2" stroke="#d6d6d6" stroke-width="0.8"/>
<line x1="192.1" y1="151.5" x2="192.1" y2="154.1" stroke="#d6d6d6" stroke-width="0.8"/>
<line x1="192.9" y1="140.7" x2="192.9" y2="146.3" stroke="#d6d6d6" stroke-width="0.8"/>
<line x1="193.7" y1="144.9" x2="193.7" y2="152.6" stroke="#d6d6d6" stroke-width="0.8"/>
<line x1="194.6" y1="146.2" x2="194.6" y2="149.5" stroke="#d6d6d6" stroke-width="0.8"/>
<line x1="195.6" y1="136" x2="195.6" y2="143.1" stroke="#d6d6d6" stroke-width="0.8"/>
<line x1="196.3" y1="125.9" x2="196.3" y2="134.3" stroke="#d6d6d6" stroke-width="0.8"/>
<line x1="196.9" y1="134.9" x2="196.9" y2="141.3" stroke="#d6d6d6" stroke-width="0.8"/>
<line x1="197.6" y1="139.4" x2="197.6" y2="146.9" stroke="#d6d6d6" stroke-width="0.8"/>
<line x1="198.3" y1="138.4" x2="198.3" y2="141.5" stroke="#d6d6d6" stroke-width="0.8"/>
<line x1="199" y1="138.5" x2="199" y2="143.7" stroke="#d6d6d6" stroke-width="0.8"/>
<line x1="200" y1="151.2" x2="200" y2="154.6" stroke="#d6d6d6" stroke-width="0.8"/>
<line x1="200.6" y1="143.6" x2="200.6" y2="151.4" stroke="#d6d6d6" stroke-width="0.8"/>
<line x1="201.2" y1="148.8" x2="201.2" y2="153.1" stroke="#d6d6d6" stroke-width="0.8"/>
<line x1="202.1" y1="148.6" x2="202.1" y2="153.9" stroke="#d6d6d6" stroke-width="0.8"/>
<line x1="202.9" y1="146.5" x2="202.9" y2="155.3" stroke="#d6d6d6" stroke-width="0.8"/>
<line x1="203.5" y1="160.1" x2="203.5" y2="167.9" stroke="#d6d6d6" stroke-width="0.8"/>
<line x1="204.1" y1="151.6" x2="204.1" y2="160.2" stroke="#d6d6d6" stroke-width="0.8"/>
<line x1="205" y1="156.9" x2="205" y2="162.2" stroke="#d6d6d6" stroke-width="0.8"/>
<line x1="205.7" y1="158.7" x2="205.7" y2="164.2" stroke="#d6d6d6" stroke-width="0.8"/>
<line x1="206.6" y1="159.5" x2="206.6" y2="166.6" stroke="#d6d6d6" stroke-width="0.8"/>
<line x1="207.4" y1="154.9" x2="207.4" y2="160.3" stroke="#d6d6d6" stroke-width="0.8"/>
<line x1="208.3" y1="155.9" x2="208.3" y2="160.2" stroke="#d6d6d6" stroke-width="0.8"/>
<line x1="209.3" y1="160.2" x2="209.3" y2="165.1" stroke="#d6d6d6" stroke-width="0.8"/>
<line x1="210.1" y1="159.5" x2="210.1" y2="162.8" stroke="#d6d6d6" stroke-width="0.8"/>
<line x1="210.8" y1="167.2" x2="210.8" y2="172" stroke="#d6d6d6" stroke-width="0.8"/>
<line x1="211.7" y1="159.5" x2="211.7" y2="168.3" stroke="#d6d6d6" stroke-width="0.8"/>
<line x1="212.3" y1="158.9" x2="212.3" y2="167.4" stroke="#d6d6d6" stroke-width="0.8"/>
<line x1="213.2" y1="166.6" x2="213.2" y2="173" stroke="#d6d6d6" stroke-width="0.8"/>
<line x1="214" y1="157.3" x2="214" y2="162.9" stroke="#d6d6d6" stroke-width="0.8"/>
<line x1="214.8" y1="159.7" x2="214.8" y2="164.3" stroke="#d6d6d6" stroke-width="0.8"/>
<line x1="215.7" y1="169.3" x2="215.7" y2="172.3" stroke="#d6d6d6" stroke-width="0.8"/>
<line x1="216.7" y1="167" x2="216.7" y2="171.1" stroke="#d6d6d6" stroke-width="0.8"/>
<line x1="217.6" y1="171.2" x2="217.6" y2="178.6" stroke="#d6d6d6" stroke-width="0.8"/>
<line x1="218.5" y1="170.8" x2="218.5" y2="178.7" stroke="#d6d6d6" stroke-width="0.8"/>
<line x1="219.5" y1="163.7" x2="219.5" y2="168.4" stroke="#d6d6d6" stroke-width="0.8"/>
<line x1="220.5" y1="169" x2="220.5" y2="176.4" stroke="#d6d6d6" stroke-width="0.8"/>
<line x1="221.4" y1="167.5" x2="221.4" y2="174.9" stroke="#d6d6d6" stroke-width="0.8"/>
<line x1="222.3" y1="158.6" x2="222.3" y2="165.4" stroke="#d6d6d6" stroke-width="0.8"/>
<line x1="223" y1="157.5" x2="223" y2="164.2" stroke="#d6d6d6" stroke-width="0.8"/>
<line x1="223.8" y1="147.7" x2="223.8" y2="154.9" stroke="#d6d6d6" stroke-width="0.8"/>
<line x1="224.8" y1="158.7" x2="224.8" y2="163.5" stroke="#d6d6d6" stroke-width="0.8"/>
<line x1="225.8" y1="163.8" x2="225.8" y2="170.7" stroke="#d6d6d6" stroke-width="0.8"/>
<line x1="226.8" y1="145.6" x2="226.8" y2="149.8" stroke="#d6d6d6" stroke-width="0.8"/>
<line x1="227.5" y1="150.9" x2="227.5" y2="156.4" stroke="#d6d6d6" stroke-width="0.8"/>
<line x1="228.5" y1="155.1" x2="228.5" y2="162.4" stroke="#d6d6d6" stroke-width="0.8"/>
<line x1="229.1" y1="149.2" x2="229.1" y2="156" stroke="#d6d6d6" stroke-width="0.8"/>
<line x1="229.9" y1="146.7" x2="229.9" y2="151" stroke="#d6d6d6" stroke-width="0.8"/>
<line x1="230.7" y1="150" x2="230.7" y2="158.4" stroke="#d6d6d6" stroke-width="0.8"/>
<line x1="231.3" y1="154.8" x2="231.3" y2="161.4" stroke="#d6d6d6" stroke-width="0.8"/>
<line x1="232.2" y1="153.5" x2="232.2" y2="159.6" stroke="#d6d6d6" stroke-width="0.8"/>
<line x1="232.9" y1="153.4" x2="232.9" y2="155.9" stroke="#d6d6d6" stroke-width="0.8"/>
<line x1="233.5" y1="163.8" x2="233.5" y2="169.7" stroke="#d6d6d6" stroke-width="0.8"/>
<line x1="234.1" y1="149.9" x2="234.1" y2="153.9" stroke="#d6d6d6" stroke-width="0.8"/>
<line x1="235.1" y1="155.4" x2="235.1" y2="162.1" stroke="#d6d6d6" stroke-width="0.8"/>
<line x1="236" y1="161.7" x2="236" y2="167" stroke="#d6d6d6" stroke-width="0.8"/>
<line x1="237" y1="151.8" x2="237" y2="159.4" stroke="#d6d6d6" stroke-width="0.8"/>
<line x1="237.6" y1="154.9" x2="237.6" y2="161.4" stroke="#d6d6d6" stroke-width="0.8"/>
<line x1="238.3" y1="158.4" x2="238.3" y2="165.9" stroke="#d6d6d6" stroke-width="0.8"/>
<line x1="239.2" y1="149.1" x2="239.2" y2="153.7" stroke="#d6d6d6" stroke-width="0.8"/>
<line x1="240.2" y1="146" x2="240.2" y2="152.5" stroke="#d6d6d6" stroke-width="0.8"/>
<line x1="241" y1="147.4" x2="241" y2="154.5" stroke="#d6d6d6" stroke-width="0.8"/>
<line x1="242" y1="151.5" x2="242" y2="159.2" stroke="#d6d6d6" stroke-width="0.8"/>
<line x1="243" y1="149.1" x2="243" y2="153.7" stroke="#d6d6d6" stroke-width="0.8"/>
<line x1="244" y1="151.6" x2="244" y2="159.4" stroke="#d6d6d6" stroke-width="0.8"/>
<line x1="244.8" y1="137.3" x2="244.8" y2="145.2" stroke="#d6d6d6" stroke-width="0.8"/>
<line x1="245.6" y1="137.7" x2="245.6" y2="144.5" stroke="#d6d6d6" stroke-width="0.8"/>
<line x1="246.4" y1="135.3" x2="246.4" y2="143.9" stroke="#d6d6d6" stroke-width="0.8"/>
<line x1="247.5" y1="133.7" x2="247.5" y2="142.2" stroke="#d6d6d6" stroke-width="0.8"/>
<line x1="248.3" y1="127.6" x2="248.3" y2="133.3" stroke="#d6d6d6" stroke-width="0.8"/>
<line x1="249.1" y1="138.8" x2="249.1" y2="144.6" stroke="#d6d6d6" stroke-width="0.8"/>
<line x1="249.9" y1="133.7" x2="249.9" y2="137.1" stroke="#d6d6d6" stroke-width="0.8"/>
<line x1="250.7" y1="129.8" x2="250.7" y2="137.5" stroke="#d6d6d6" stroke-width="0.8"/>
<line x1="251.5" y1="142" x2="251.5" y2="150.4" stroke="#d6d6d6" stroke-width="0.8"/>
<line x1="252.2" y1="131.2" x2="252.2" y2="136.7" stroke="#d6d6d6" stroke-width="0.8"/>
<line x1="252.9" y1="138.6" x2="252.9" y2="145.4" stroke="#d6d6d6" stroke-width="0.8"/>
<line x1="253.9" y1="140.5" x2="253.9" y2="147.5" stroke="#d6d6d6" stroke-width="0.8"/>
<line x1="254.9" y1="134.3" x2="254.9" y2="141.4" stroke="#d6d6d6" stroke-width="0.8"/>
<line x1="255.6" y1="142.9" x2="255.6" y2="146.4" stroke="#d6d6d6" stroke-width="0.8"/>
<line x1="256.4" y1="143.2" x2="256.4" y2="150.6" stroke="#d6d6d6" stroke-width="0.8"/>
<line x1="257.4" y1="141.5" x2="257.4" y2="147.7" stroke="#d6d6d6" stroke-width="0.8"/>
<line x1="257.9" y1="143.1" x2="257.9" y2="149.7" stroke="#d6d6d6" stroke-width="0.8"/>
<line x1="258.8" y1="145.4" x2="258.8" y2="150.4" stroke="#d6d6d6" stroke-width="0.8"/>
<line x1="259.5" y1="136" x2="259.5" y2="142.3" stroke="#d6d6d6" stroke-width="0.8"/>
<line x1="260.1" y1="143.2" x2="260.1" y2="150.5" stroke="#d6d6d6" stroke-width="0.8"/>
<line x1="261" y1="139.5" x2="261" y2="146" stroke="#d6d6d6" stroke-width="0.8"/>
<line x1="261.7" y1="136.9" x2="261.7" y2="143.9" stroke="#d6d6d6" stroke-width="0.8"/>
<line x1="262.4" y1="128.2" x2="262.4" y2="130.8" stroke="#d6d6d6" stroke-width="0.8"/>
<line x1="263.1" y1="130" x2="263.1" y2="133.5" stroke="#d6d6d6" stroke-width="0.8"/>
<line x1="263.9" y1="125.1" x2="263.9" y2="130.3" stroke="#d6d6d6" stroke-width="0.8"/>
<line x1="264.5" y1="124.9" x2="264.5" y2="131.5" stroke="#d6d6d6" stroke-width="0.8"/>
<line x1="265.4" y1="121.2" x2="265.4" y2="125" stroke="#d6d6d6" stroke-width="0.8"/>
<line x1="266.3" y1="116.7" x2="266.3" y2="123.5" stroke="#d6d6d6" stroke-width="0.8"/>
<line x1="267.2" y1="122.1" x2="267.2" y2="128.6" stroke="#d6d6d6" stroke-width="0.8"/>
<line x1="268.1" y1="117.5" x2="268.1" y2="120.2" stroke="#d6d6d6" stroke-width="0.8"/>
<line x1="269.1" y1="120.2" x2="269.1" y2="125.6" stroke="#d6d6d6" stroke-width="0.8"/>
<line x1="269.8" y1="113.6" x2="269.8" y2="117.5" stroke="#d6d6d6" stroke-width="0.8"/>
<line x1="270.8" y1="118.2" x2="270.8" y2="121" stroke="#d6d6d6" stroke-width="0.8"/>
<line x1="271.8" y1="129.6" x2="271.8" y2="132.9" stroke="#d6d6d6" stroke-width="0.8"/>
<line x1="272.4" y1="110.5" x2="272.4" y2="114.9" stroke="#d6d6d6" stroke-width="0.8"/>
<line x1="273.1" y1="117.4" x2="273.1" y2="121" stroke="#d6d6d6" stroke-width="0.8"/>
<line x1="273.7" y1="111.1" x2="273.7" y2="114.8" stroke="#d6d6d6" stroke-width="0.8"/>
<line x1="274.6" y1="103.9" x2="274.6" y2="106.5" stroke="#d6d6d6" stroke-width="0.8"/>
<line x1="275.2" y1="100.7" x2="275.2" y2="106.1" stroke="#d6d6d6" stroke-width="0.8"/>
<line x1="275.8" y1="111.8" x2="275.8" y2="116.6" stroke="#d6d6d6" stroke-width="0.8"/>
<line x1="276.5" y1="102.5" x2="276.5" y2="108.8" stroke="#d6d6d6" stroke-width="0.8"/>
<line x1="277.5" y1="98.5" x2="277.5" y2="104.7" stroke="#d6d6d6" stroke-width="0.8"/>
<line x1="278.1" y1="102.4" x2="278.1" y2="106.3" stroke="#d6d6d6" stroke-width="0.8"/>
<line x1="278.9" y1="109.4" x2="278.9" y2="117.6" stroke="#d6d6d6" stroke-width="0.8"/>
<line x1="279.8" y1="115.9" x2="279.8" y2="118.3" stroke="#d6d6d6" stroke-width="0.8"/>
<line x1="280.4" y1="116.6" x2="280.4" y2="121.6" stroke="#d6d6d6" stroke-width="0.8"/>
<line x1="281" y1="110.9" x2="281" y2="115.1" stroke="#d6d6d6" stroke-width="0.8"/>
<line x1="281.8" y1="116.1" x2="281.8" y2="121.1" stroke="#d6d6d6" stroke-width="0.8"/>
<line x1="282.4" y1="122" x2="282.4" y2="125.1" stroke="#d6d6d6" stroke-width="0.8"/>
<line x1="283.4" y1="123.1" x2="283.4" y2="130.8" stroke="#d6d6d6" stroke-width="0.8"/>
<path d="M104.5 152.9 L105.5 161.9 L106.3 154.7 L106.9 162.2 L107.7 158.3 L108.3 159.3 L109 175.1 L109.9 173.8 L110.5 182.5 L111.4 169.5 L112.2 172.1 L113.1 173 L113.6 174 L114.2 175.8 L115 162.8 L115.8 174.7 L116.7 162.3 L117.4 168.1 L118.1 183.2 L119.1 165.2 L120 162.9 L120.7 166.9 L121.3 164.1 L122.3 158.6 L123 173 L123.6 161.3 L124.2 168.9 L125.2 161.5 L126 171.1 L126.9 168.3 L127.6 169.3 L128.7 168.3 L129.6 169.9 L130.2 170.4 L130.8 169.4 L131.6 167 L132.4 174.3 L133 180 L133.9 177.3 L134.5 177.6 L135.2 183.7 L135.9 173.2 L136.9 175.8 L137.9 178.8 L138.7 183.8 L139.4 178.8 L140.1 168.6 L140.8 160.8 L141.4 168.4 L142 163.7 L142.9 153.1 L143.9 158.4 L144.7 143.7 L145.3 146.6 L146 157.9 L146.6 144.5 L147.3 148.1 L147.9 136.4 L149 152.6 L149.7 142.7 L150.3 159.5 L151 149.9 L151.9 145.1 L152.7 153.1 L153.4 146 L154 148.4 L154.7 130.6 L155.5 134.1 L156.2 139 L156.8 133.1 L157.5 132.6 L158.1 134.7 L158.9 131.5 L159.6 132.5 L160.6 140.9 L161.5 132.7 L162.3 134.4 L162.9 134.3 L163.9 128.4 L164.4 119.5 L165.3 122.7 L166 131.1 L167.1 135.1 L168 131.7 L169 127.4 L169.9 121.4 L170.9 126.3 L171.9 138.6 L172.9 126.8 L173.9 140.9 L174.7 134.7 L175.6 135.6 L176.4 146.2 L177.5 144.4 L178.5 141 L179.4 137.4 L180.2 134 L180.8 147.4 L181.8 152.7 L182.5 149.1 L183.2 147.4 L184.1 145 L185.1 151.9 L185.8 153.6 L186.7 154.2 L187.7 156.2 L188.5 143.5 L189.3 156.7 L190.1 153.7 L191.1 156.1 L192.1 153.1 L192.9 144.2 L193.7 149.7 L194.6 148.3 L195.6 140.4 L196.3 131.2 L196.9 138.9 L197.6 144.1 L198.3 140.3 L199 141.7 L200 153.3 L200.6 148.5 L201.2 151.5 L202.1 151.9 L202.9 152 L203.5 165 L204.1 157 L205 160.2 L205.7 162.2 L206.6 164 L207.4 158.3 L208.3 158.6 L209.3 163.3 L210.1 161.5 L210.8 170.2 L211.7 165 L212.3 164.2 L213.2 170.6 L214 160.8 L214.8 162.6 L215.7 171.2 L216.7 169.6 L217.6 175.8 L218.5 175.7 L219.5 166.6 L220.5 173.6 L221.4 172.1 L222.3 162.9 L223 161.7 L223.8 152.2 L224.8 161.7 L225.8 168.1 L226.8 148.3 L227.5 154.3 L228.5 159.6 L229.1 153.4 L229.9 149.4 L230.7 155.2 L231.3 158.9 L232.2 157.3 L232.9 155 L233.5 167.5 L234.1 152.4 L235.1 159.6 L236 165 L237 156.6 L237.6 159 L238.3 163.1 L239.2 152 L240.2 150 L241 151.8 L242 156.3 L243 152 L244 156.5 L244.8 142.2 L245.6 141.9 L246.4 140.7 L247.5 139 L248.3 131.2 L249.1 142.5 L249.9 135.8 L250.7 134.6 L251.5 147.3 L252.2 134.6 L252.9 142.9 L253.9 144.8 L254.9 138.8 L255.6 145 L256.4 147.8 L257.4 145.4 L257.9 147.3 L258.8 148.5 L259.5 139.9 L260.1 147.7 L261 143.6 L261.7 141.3 L262.4 129.8 L263.1 132.2 L263.9 128.4 L264.5 129 L265.4 123.6 L266.3 120.9 L267.2 126.2 L268.1 119.2 L269.1 123.6 L269.8 116 L270.8 119.9 L271.8 131.7 L272.4 113.3 L273.1 119.7 L273.7 113.4 L274.6 105.6 L275.2 104.1 L275.8 114.8 L276.5 106.4 L277.5 102.4 L278.1 104.8 L278.9 114.6 L279.8 117.4 L280.4 119.7 L281 113.6 L281.8 119.2 L282.4 123.9 L283.4 127.9" fill="none" stroke="#b0b0b0" stroke-width="0.55"/>
<circle cx="104.5" cy="152.9" r="0.85" fill="#969696" />
<circle cx="105.5" cy="161.9" r="0.85" fill="#969696" />
<circle cx="106.3" cy="154.7" r="0.85" fill="#969696" />
<circle cx="106.9" cy="162.2" r="0.85" fill="#969696" />
<circle cx="107.7" cy="158.3" r="0.85" fill="#969696" />
<circle cx="108.3" cy="159.3" r="0.85" fill="#969696" />
<circle cx="109" cy="175.1" r="0.85" fill="#969696" />
<circle cx="109.9" cy="173.8" r="0.85" fill="#969696" />
<circle cx="110.5" cy="182.5" r="0.85" fill="#969696" />
<circle cx="111.4" cy="169.5" r="0.85" fill="#969696" />
<circle cx="112.2" cy="172.1" r="0.85" fill="#969696" />
<circle cx="113.1" cy="173" r="0.85" fill="#969696" />
<circle cx="113.6" cy="174" r="0.85" fill="#969696" />
<circle cx="114.2" cy="175.8" r="0.85" fill="#969696" />
<circle cx="115" cy="162.8" r="0.85" fill="#969696" />
<circle cx="115.8" cy="174.7" r="0.85" fill="#969696" />
<circle cx="116.7" cy="162.3" r="0.85" fill="#969696" />
<circle cx="117.4" cy="168.1" r="0.85" fill="#969696" />
<circle cx="118.1" cy="183.2" r="0.85" fill="#969696" />
<circle cx="119.1" cy="165.2" r="0.85" fill="#969696" />
<circle cx="120" cy="162.9" r="0.85" fill="#969696" />
<circle cx="120.7" cy="166.9" r="0.85" fill="#969696" />
<circle cx="121.3" cy="164.1" r="0.85" fill="#969696" />
<circle cx="122.3" cy="158.6" r="0.85" fill="#969696" />
<circle cx="123" cy="173" r="0.85" fill="#969696" />
<circle cx="123.6" cy="161.3" r="0.85" fill="#969696" />
<circle cx="124.2" cy="168.9" r="0.85" fill="#969696" />
<circle cx="125.2" cy="161.5" r="0.85" fill="#969696" />
<circle cx="126" cy="171.1" r="0.85" fill="#969696" />
<circle cx="126.9" cy="168.3" r="0.85" fill="#969696" />
<circle cx="127.6" cy="169.3" r="0.85" fill="#969696" />
<circle cx="128.7" cy="168.3" r="0.85" fill="#969696" />
<circle cx="129.6" cy="169.9" r="0.85" fill="#969696" />
<circle cx="130.2" cy="170.4" r="0.85" fill="#969696" />
<circle cx="130.8" cy="169.4" r="0.85" fill="#969696" />
<circle cx="131.6" cy="167" r="0.85" fill="#969696" />
<circle cx="132.4" cy="174.3" r="0.85" fill="#969696" />
<circle cx="133" cy="180" r="0.85" fill="#969696" />
<circle cx="133.9" cy="177.3" r="0.85" fill="#969696" />
<circle cx="134.5" cy="177.6" r="0.85" fill="#969696" />
<circle cx="135.2" cy="183.7" r="0.85" fill="#969696" />
<circle cx="135.9" cy="173.2" r="0.85" fill="#969696" />
<circle cx="136.9" cy="175.8" r="0.85" fill="#969696" />
<circle cx="137.9" cy="178.8" r="0.85" fill="#969696" />
<circle cx="138.7" cy="183.8" r="0.85" fill="#969696" />
<circle cx="139.4" cy="178.8" r="0.85" fill="#969696" />
<circle cx="140.1" cy="168.6" r="0.85" fill="#969696" />
<circle cx="140.8" cy="160.8" r="0.85" fill="#969696" />
<circle cx="141.4" cy="168.4" r="0.85" fill="#969696" />
<circle cx="142" cy="163.7" r="0.85" fill="#969696" />
<circle cx="142.9" cy="153.1" r="0.85" fill="#969696" />
<circle cx="143.9" cy="158.4" r="0.85" fill="#969696" />
<circle cx="144.7" cy="143.7" r="0.85" fill="#969696" />
<circle cx="145.3" cy="146.6" r="0.85" fill="#969696" />
<circle cx="146" cy="157.9" r="0.85" fill="#969696" />
<circle cx="146.6" cy="144.5" r="0.85" fill="#969696" />
<circle cx="147.3" cy="148.1" r="0.85" fill="#969696" />
<circle cx="147.9" cy="136.4" r="0.85" fill="#969696" />
<circle cx="149" cy="152.6" r="0.85" fill="#969696" />
<circle cx="149.7" cy="142.7" r="0.85" fill="#969696" />
<circle cx="150.3" cy="159.5" r="0.85" fill="#969696" />
<circle cx="151" cy="149.9" r="0.85" fill="#969696" />
<circle cx="151.9" cy="145.1" r="0.85" fill="#969696" />
<circle cx="152.7" cy="153.1" r="0.85" fill="#969696" />
<circle cx="153.4" cy="146" r="0.85" fill="#969696" />
<circle cx="154" cy="148.4" r="0.85" fill="#969696" />
<circle cx="154.7" cy="130.6" r="0.85" fill="#969696" />
<circle cx="155.5" cy="134.1" r="0.85" fill="#969696" />
<circle cx="156.2" cy="139" r="0.85" fill="#969696" />
<circle cx="156.8" cy="133.1" r="0.85" fill="#969696" />
<circle cx="157.5" cy="132.6" r="0.85" fill="#969696" />
<circle cx="158.1" cy="134.7" r="0.85" fill="#969696" />
<circle cx="158.9" cy="131.5" r="0.85" fill="#969696" />
<circle cx="159.6" cy="132.5" r="0.85" fill="#969696" />
<circle cx="160.6" cy="140.9" r="0.85" fill="#969696" />
<circle cx="161.5" cy="132.7" r="0.85" fill="#969696" />
<circle cx="162.3" cy="134.4" r="0.85" fill="#969696" />
<circle cx="162.9" cy="134.3" r="0.85" fill="#969696" />
<circle cx="163.9" cy="128.4" r="0.85" fill="#969696" />
<circle cx="164.4" cy="119.5" r="0.85" fill="#969696" />
<circle cx="165.3" cy="122.7" r="0.85" fill="#969696" />
<circle cx="166" cy="131.1" r="0.85" fill="#969696" />
<circle cx="167.1" cy="135.1" r="0.85" fill="#969696" />
<circle cx="168" cy="131.7" r="0.85" fill="#969696" />
<circle cx="169" cy="127.4" r="0.85" fill="#969696" />
<circle cx="169.9" cy="121.4" r="0.85" fill="#969696" />
<circle cx="170.9" cy="126.3" r="0.85" fill="#969696" />
<circle cx="171.9" cy="138.6" r="0.85" fill="#969696" />
<circle cx="172.9" cy="126.8" r="0.85" fill="#969696" />
<circle cx="173.9" cy="140.9" r="0.85" fill="#969696" />
<circle cx="174.7" cy="134.7" r="0.85" fill="#969696" />
<circle cx="175.6" cy="135.6" r="0.85" fill="#969696" />
<circle cx="176.4" cy="146.2" r="0.85" fill="#969696" />
<circle cx="177.5" cy="144.4" r="0.85" fill="#969696" />
<circle cx="178.5" cy="141" r="0.85" fill="#969696" />
<circle cx="179.4" cy="137.4" r="0.85" fill="#969696" />
<circle cx="180.2" cy="134" r="0.85" fill="#969696" />
<circle cx="180.8" cy="147.4" r="0.85" fill="#969696" />
<circle cx="181.8" cy="152.7" r="0.85" fill="#969696" />
<circle cx="182.5" cy="149.1" r="0.85" fill="#969696" />
<circle cx="183.2" cy="147.4" r="0.85" fill="#969696" />
<circle cx="184.1" cy="145" r="0.85" fill="#969696" />
<circle cx="185.1" cy="151.9" r="0.85" fill="#969696" />
<circle cx="185.8" cy="153.6" r="0.85" fill="#969696" />
<circle cx="186.7" cy="154.2" r="0.85" fill="#969696" />
<circle cx="187.7" cy="156.2" r="0.85" fill="#969696" />
<circle cx="188.5" cy="143.5" r="0.85" fill="#969696" />
<circle cx="189.3" cy="156.7" r="0.85" fill="#969696" />
<circle cx="190.1" cy="153.7" r="0.85" fill="#969696" />
<circle cx="191.1" cy="156.1" r="0.85" fill="#969696" />
<circle cx="192.1" cy="153.1" r="0.85" fill="#969696" />
<circle cx="192.9" cy="144.2" r="0.85" fill="#969696" />
<circle cx="193.7" cy="149.7" r="0.85" fill="#969696" />
<circle cx="194.6" cy="148.3" r="0.85" fill="#969696" />
<circle cx="195.6" cy="140.4" r="0.85" fill="#969696" />
<circle cx="196.3" cy="131.2" r="0.85" fill="#969696" />
<circle cx="196.9" cy="138.9" r="0.85" fill="#969696" />
<circle cx="197.6" cy="144.1" r="0.85" fill="#969696" />
<circle cx="198.3" cy="140.3" r="0.85" fill="#969696" />
<circle cx="199" cy="141.7" r="0.85" fill="#969696" />
<circle cx="200" cy="153.3" r="0.85" fill="#969696" />
<circle cx="200.6" cy="148.5" r="0.85" fill="#969696" />
<circle cx="201.2" cy="151.5" r="0.85" fill="#969696" />
<circle cx="202.1" cy="151.9" r="0.85" fill="#969696" />
<circle cx="202.9" cy="152" r="0.85" fill="#969696" />
<circle cx="203.5" cy="165" r="0.85" fill="#969696" />
<circle cx="204.1" cy="157" r="0.85" fill="#969696" />
<circle cx="205" cy="160.2" r="0.85" fill="#969696" />
<circle cx="205.7" cy="162.2" r="0.85" fill="#969696" />
<circle cx="206.6" cy="164" r="0.85" fill="#969696" />
<circle cx="207.4" cy="158.3" r="0.85" fill="#969696" />
<circle cx="208.3" cy="158.6" r="0.85" fill="#969696" />
<circle cx="209.3" cy="163.3" r="0.85" fill="#969696" />
<circle cx="210.1" cy="161.5" r="0.85" fill="#969696" />
<circle cx="210.8" cy="170.2" r="0.85" fill="#969696" />
<circle cx="211.7" cy="165" r="0.85" fill="#969696" />
<circle cx="212.3" cy="164.2" r="0.85" fill="#969696" />
<circle cx="213.2" cy="170.6" r="0.85" fill="#969696" />
<circle cx="214" cy="160.8" r="0.85" fill="#969696" />
<circle cx="214.8" cy="162.6" r="0.85" fill="#969696" />
<circle cx="215.7" cy="171.2" r="0.85" fill="#969696" />
<circle cx="216.7" cy="169.6" r="0.85" fill="#969696" />
<circle cx="217.6" cy="175.8" r="0.85" fill="#969696" />
<circle cx="218.5" cy="175.7" r="0.85" fill="#969696" />
<circle cx="219.5" cy="166.6" r="0.85" fill="#969696" />
<circle cx="220.5" cy="173.6" r="0.85" fill="#969696" />
<circle cx="221.4" cy="172.1" r="0.85" fill="#969696" />
<circle cx="222.3" cy="162.9" r="0.85" fill="#969696" />
<circle cx="223" cy="161.7" r="0.85" fill="#969696" />
<circle cx="223.8" cy="152.2" r="0.85" fill="#969696" />
<circle cx="224.8" cy="161.7" r="0.85" fill="#969696" />
<circle cx="225.8" cy="168.1" r="0.85" fill="#969696" />
<circle cx="226.8" cy="148.3" r="0.85" fill="#969696" />
<circle cx="227.5" cy="154.3" r="0.85" fill="#969696" />
<circle cx="228.5" cy="159.6" r="0.85" fill="#969696" />
<circle cx="229.1" cy="153.4" r="0.85" fill="#969696" />
<circle cx="229.9" cy="149.4" r="0.85" fill="#969696" />
<circle cx="230.7" cy="155.2" r="0.85" fill="#969696" />
<circle cx="231.3" cy="158.9" r="0.85" fill="#969696" />
<circle cx="232.2" cy="157.3" r="0.85" fill="#969696" />
<circle cx="232.9" cy="155" r="0.85" fill="#969696" />
<circle cx="233.5" cy="167.5" r="0.85" fill="#969696" />
<circle cx="234.1" cy="152.4" r="0.85" fill="#969696" />
<circle cx="235.1" cy="159.6" r="0.85" fill="#969696" />
<circle cx="236" cy="165" r="0.85" fill="#969696" />
<circle cx="237" cy="156.6" r="0.85" fill="#969696" />
<circle cx="237.6" cy="159" r="0.85" fill="#969696" />
<circle cx="238.3" cy="163.1" r="0.85" fill="#969696" />
<circle cx="239.2" cy="152" r="0.85" fill="#969696" />
<circle cx="240.2" cy="150" r="0.85" fill="#969696" />
<circle cx="241" cy="151.8" r="0.85" fill="#969696" />
<circle cx="242" cy="156.3" r="0.85" fill="#969696" />
<circle cx="243" cy="152" r="0.85" fill="#969696" />
<circle cx="244" cy="156.5" r="0.85" fill="#969696" />
<circle cx="244.8" cy="142.2" r="0.85" fill="#969696" />
<circle cx="245.6" cy="141.9" r="0.85" fill="#969696" />
<circle cx="246.4" cy="140.7" r="0.85" fill="#969696" />
<circle cx="247.5" cy="139" r="0.85" fill="#969696" />
<circle cx="248.3" cy="131.2" r="0.85" fill="#969696" />
<circle cx="249.1" cy="142.5" r="0.85" fill="#969696" />
<circle cx="249.9" cy="135.8" r="0.85" fill="#969696" />
<circle cx="250.7" cy="134.6" r="0.85" fill="#969696" />
<circle cx="251.5" cy="147.3" r="0.85" fill="#969696" />
<circle cx="252.2" cy="134.6" r="0.85" fill="#969696" />
<circle cx="252.9" cy="142.9" r="0.85" fill="#969696" />
<circle cx="253.9" cy="144.8" r="0.85" fill="#969696" />
<circle cx="254.9" cy="138.8" r="0.85" fill="#969696" />
<circle cx="255.6" cy="145" r="0.85" fill="#969696" />
<circle cx="256.4" cy="147.8" r="0.85" fill="#969696" />
<circle cx="257.4" cy="145.4" r="0.85" fill="#969696" />
<circle cx="257.9" cy="147.3" r="0.85" fill="#969696" />
<circle cx="258.8" cy="148.5" r="0.85" fill="#969696" />
<circle cx="259.5" cy="139.9" r="0.85" fill="#969696" />
<circle cx="260.1" cy="147.7" r="0.85" fill="#969696" />
<circle cx="261" cy="143.6" r="0.85" fill="#969696" />
<circle cx="261.7" cy="141.3" r="0.85" fill="#969696" />
<circle cx="262.4" cy="129.8" r="0.85" fill="#969696" />
<circle cx="263.1" cy="132.2" r="0.85" fill="#969696" />
<circle cx="263.9" cy="128.4" r="0.85" fill="#969696" />
<circle cx="264.5" cy="129" r="0.85" fill="#969696" />
<circle cx="265.4" cy="123.6" r="0.85" fill="#969696" />
<circle cx="266.3" cy="120.9" r="0.85" fill="#969696" />
<circle cx="267.2" cy="126.2" r="0.85" fill="#969696" />
<circle cx="268.1" cy="119.2" r="0.85" fill="#969696" />
<circle cx="269.1" cy="123.6" r="0.85" fill="#969696" />
<circle cx="269.8" cy="116" r="0.85" fill="#969696" />
<circle cx="270.8" cy="119.9" r="0.85" fill="#969696" />
<circle cx="271.8" cy="131.7" r="0.85" fill="#969696" />
<circle cx="272.4" cy="113.3" r="0.85" fill="#969696" />
<circle cx="273.1" cy="119.7" r="0.85" fill="#969696" />
<circle cx="273.7" cy="113.4" r="0.85" fill="#969696" />
<circle cx="274.6" cy="105.6" r="0.85" fill="#969696" />
<circle cx="275.2" cy="104.1" r="0.85" fill="#969696" />
<circle cx="275.8" cy="114.8" r="0.85" fill="#969696" />
<circle cx="276.5" cy="106.4" r="0.85" fill="#969696" />
<circle cx="277.5" cy="102.4" r="0.85" fill="#969696" />
<circle cx="278.1" cy="104.8" r="0.85" fill="#969696" />
<circle cx="278.9" cy="114.6" r="0.85" fill="#969696" />
<circle cx="279.8" cy="117.4" r="0.85" fill="#969696" />
<circle cx="280.4" cy="119.7" r="0.85" fill="#969696" />
<circle cx="281" cy="113.6" r="0.85" fill="#969696" />
<circle cx="281.8" cy="119.2" r="0.85" fill="#969696" />
<circle cx="282.4" cy="123.9" r="0.85" fill="#969696" />
<circle cx="283.4" cy="127.9" r="0.85" fill="#969696" />
<path d="M104.9 156.9 C105.2 157.5 106.2 158.9 106.9 160.3 C107.6 161.7 108.3 164.1 109.1 165.5 C109.8 166.9 110.6 168.1 111.4 168.9 C112.2 169.8 112.9 170.6 113.7 170.6 C114.5 170.6 115.2 169.9 116 168.9 C116.8 167.9 117.5 165.5 118.3 164.3 C119.1 163.1 119.8 162 120.6 161.5 C121.4 161 122.1 161.3 122.9 161.5 C123.8 161.7 124.8 162.2 125.7 162.6 C126.7 163 127.7 163.1 128.6 163.8 C129.5 164.5 130.2 165.5 130.9 166.6 C131.7 167.7 132.3 169.5 133.1 170.6 C133.8 171.7 134.6 172.6 135.4 172.9 C136.2 173.2 136.9 173.4 137.7 172.3 C138.5 171.2 139.2 169.1 140 166.2 C140.8 163.3 141.9 158 142.8 155 C143.7 152 144.7 150 145.6 148.4 C146.5 146.8 147.6 146.2 148.5 145.6 C149.4 145 150.4 145.7 151.3 144.6 C152.2 143.5 153.2 141 154.1 139 C155 137 156 133.7 156.9 132.4 C157.8 131.2 158.8 131.7 159.7 131.5 C160.6 131.3 161.6 132 162.6 131.5 C163.6 131 164.3 129.5 165.4 128.6 C166.5 127.6 168.1 125.5 169.2 125.8 C170.3 126.1 171.1 128.8 172 130.5 C172.9 132.2 173.9 134.8 174.8 136.2 C175.7 137.6 176.7 138.2 177.6 139 C178.5 139.8 179.4 139.5 180.4 140.9 C181.4 142.3 182.4 145.7 183.3 147.4 C184.2 149.1 185.2 150.6 186.1 151.2 C187 151.8 188 151.7 188.9 151.2 C189.8 150.7 190.8 150 191.7 148.4 C192.6 146.8 193.6 143.1 194.5 141.8 C195.4 140.5 196.3 139.5 197.4 140.4 C198.5 141.3 199.8 145 200.8 147.4 C201.8 149.8 202.7 152.8 203.6 155 C204.5 157.2 205.6 159.3 206.5 160.6 C207.4 161.8 208.4 162.2 209.3 162.5 C210.2 162.8 211.2 161.9 212.1 162.5 C213 163.1 214 165 214.9 166.2 C215.8 167.5 216.9 169.5 217.7 170 C218.5 170.5 218.8 170.3 219.6 169.1 C220.4 167.8 221.4 164.7 222.4 162.5 C223.4 160.3 224.4 157.3 225.3 155.9 C226.2 154.5 226.7 154.2 227.6 154.2 C228.5 154.2 229.7 155.2 230.9 155.9 C232.1 156.7 233.6 158.7 234.7 158.7 C235.8 158.7 236.4 157.2 237.5 155.9 C238.6 154.7 240.2 153.1 241.3 151.2 C242.4 149.3 243.3 146.6 244.2 144.5 C245.1 142.4 246 140.2 246.9 138.5 C247.8 136.8 248.8 135.2 249.5 134.5 C250.2 133.8 250.7 133.4 251.4 134.1 C252.1 134.8 253.1 137.3 253.8 138.7 C254.5 140.1 255 141.4 255.6 142.4 C256.2 143.4 256.7 144.5 257.3 144.5 C257.9 144.5 258.6 144.3 259.4 142.5 C260.2 140.7 261.3 136.1 262.2 133.4 C263.1 130.7 264.1 128.4 265 126.2 C265.9 124 266.9 122.4 267.9 120.4 C268.8 118.5 269.9 116.2 270.7 114.5 C271.5 112.8 272 111.3 272.6 110.2 C273.2 109.1 273.7 108.2 274.3 107.9 C274.9 107.6 275.6 107.9 276.2 108.5 C276.8 109.1 277.5 110 278.2 111.3 C278.9 112.6 279.8 114.6 280.5 116.1 C281.2 117.6 281.7 118.9 282.3 120.2 C282.9 121.5 283.6 123.3 283.9 123.9" fill="none" stroke="#cc9c76" stroke-width="0.8"/>
<path d="M104.9 161.1 C105.2 161.7 106.2 163.1 106.9 164.5 C107.6 165.9 108.3 168.3 109.1 169.7 C109.8 171.1 110.6 172.2 111.4 173.1 C112.2 173.9 112.9 174.8 113.7 174.8 C114.5 174.8 115.2 174.1 116 173.1 C116.8 172.1 117.5 169.7 118.3 168.5 C119.1 167.3 119.8 166.2 120.6 165.7 C121.4 165.2 122.1 165.5 122.9 165.7 C123.8 165.9 124.8 166.4 125.7 166.8 C126.7 167.2 127.7 167.3 128.6 168 C129.5 168.7 130.2 169.7 130.9 170.8 C131.7 171.9 132.3 173.7 133.1 174.8 C133.8 175.8 134.6 176.8 135.4 177.1 C136.2 177.4 136.9 177.6 137.7 176.5 C138.5 175.4 139.2 173.3 140 170.4 C140.8 167.5 141.9 162.2 142.8 159.2 C143.7 156.2 144.7 154.2 145.6 152.6 C146.5 151 147.6 150.4 148.5 149.8 C149.4 149.2 150.4 149.9 151.3 148.8 C152.2 147.7 153.2 145.2 154.1 143.2 C155 141.2 156 137.8 156.9 136.6 C157.8 135.3 158.8 135.8 159.7 135.7 C160.6 135.5 161.6 136.2 162.6 135.7 C163.6 135.2 164.3 133.7 165.4 132.8 C166.5 131.8 168.1 129.7 169.2 130 C170.3 130.3 171.1 133 172 134.7 C172.9 136.4 173.9 139 174.8 140.4 C175.7 141.8 176.7 142.4 177.6 143.2 C178.5 144 179.4 143.7 180.4 145.1 C181.4 146.5 182.4 149.9 183.3 151.6 C184.2 153.3 185.2 154.8 186.1 155.4 C187 156 188 155.9 188.9 155.4 C189.8 154.9 190.8 154.2 191.7 152.6 C192.6 151 193.6 147.3 194.5 146 C195.4 144.7 196.3 143.7 197.4 144.6 C198.5 145.5 199.8 149.2 200.8 151.6 C201.8 154 202.7 157 203.6 159.2 C204.5 161.4 205.6 163.5 206.5 164.8 C207.4 166 208.4 166.4 209.3 166.7 C210.2 167 211.2 166.1 212.1 166.7 C213 167.3 214 169.2 214.9 170.4 C215.8 171.7 216.9 173.7 217.7 174.2 C218.5 174.7 218.8 174.5 219.6 173.3 C220.4 172 221.4 168.9 222.4 166.7 C223.4 164.5 224.4 161.5 225.3 160.1 C226.2 158.7 226.7 158.4 227.6 158.4 C228.5 158.4 229.7 159.3 230.9 160.1 C232.1 160.8 233.6 162.9 234.7 162.9 C235.8 162.9 236.4 161.3 237.5 160.1 C238.6 158.8 240.2 157.3 241.3 155.4 C242.4 153.5 243.3 150.8 244.2 148.7 C245.1 146.6 246 144.4 246.9 142.7 C247.8 141 248.8 139.4 249.5 138.7 C250.2 138 250.7 137.6 251.4 138.3 C252.1 139 253.1 141.5 253.8 142.9 C254.5 144.3 255 145.6 255.6 146.6 C256.2 147.6 256.7 148.7 257.3 148.7 C257.9 148.7 258.6 148.5 259.4 146.7 C260.2 144.8 261.3 140.3 262.2 137.6 C263.1 134.9 264.1 132.6 265 130.4 C265.9 128.2 266.9 126.5 267.9 124.6 C268.8 122.6 269.9 120.4 270.7 118.7 C271.5 117 272 115.5 272.6 114.4 C273.2 113.3 273.7 112.4 274.3 112.1 C274.9 111.8 275.6 112.1 276.2 112.7 C276.8 113.3 277.5 114.2 278.2 115.5 C278.9 116.8 279.8 118.8 280.5 120.3 C281.2 121.8 281.7 123.1 282.3 124.4 C282.9 125.7 283.6 127.5 283.9 128.1" fill="none" stroke="#cc9c76" stroke-width="0.8"/>
<path d="M104.9 159 C105.2 159.6 106.2 161 106.9 162.4 C107.6 163.8 108.3 166.2 109.1 167.6 C109.8 169 110.6 170.2 111.4 171 C112.2 171.8 112.9 172.7 113.7 172.7 C114.5 172.7 115.2 172.1 116 171 C116.8 169.9 117.5 167.6 118.3 166.4 C119.1 165.2 119.8 164.1 120.6 163.6 C121.4 163.1 122.1 163.4 122.9 163.6 C123.8 163.8 124.8 164.3 125.7 164.7 C126.7 165.1 127.7 165.2 128.6 165.9 C129.5 166.6 130.2 167.6 130.9 168.7 C131.7 169.8 132.3 171.6 133.1 172.7 C133.8 173.8 134.6 174.7 135.4 175 C136.2 175.3 136.9 175.5 137.7 174.4 C138.5 173.3 139.2 171.2 140 168.3 C140.8 165.4 141.9 160.1 142.8 157.1 C143.7 154.1 144.7 152.1 145.6 150.5 C146.5 148.9 147.6 148.3 148.5 147.7 C149.4 147.1 150.4 147.8 151.3 146.7 C152.2 145.6 153.2 143.1 154.1 141.1 C155 139.1 156 135.8 156.9 134.5 C157.8 133.2 158.8 133.8 159.7 133.6 C160.6 133.4 161.6 134.1 162.6 133.6 C163.6 133.1 164.3 131.6 165.4 130.7 C166.5 129.8 168.1 127.6 169.2 127.9 C170.3 128.2 171.1 130.9 172 132.6 C172.9 134.3 173.9 136.9 174.8 138.3 C175.7 139.7 176.7 140.3 177.6 141.1 C178.5 141.9 179.4 141.6 180.4 143 C181.4 144.4 182.4 147.8 183.3 149.5 C184.2 151.2 185.2 152.7 186.1 153.3 C187 153.9 188 153.8 188.9 153.3 C189.8 152.8 190.8 152.1 191.7 150.5 C192.6 148.9 193.6 145.2 194.5 143.9 C195.4 142.6 196.3 141.6 197.4 142.5 C198.5 143.4 199.8 147.1 200.8 149.5 C201.8 151.9 202.7 154.9 203.6 157.1 C204.5 159.3 205.6 161.4 206.5 162.7 C207.4 163.9 208.4 164.3 209.3 164.6 C210.2 164.9 211.2 164 212.1 164.6 C213 165.2 214 167.1 214.9 168.3 C215.8 169.6 216.9 171.6 217.7 172.1 C218.5 172.6 218.8 172.4 219.6 171.2 C220.4 169.9 221.4 166.8 222.4 164.6 C223.4 162.4 224.4 159.4 225.3 158 C226.2 156.6 226.7 156.3 227.6 156.3 C228.5 156.3 229.7 157.2 230.9 158 C232.1 158.8 233.6 160.8 234.7 160.8 C235.8 160.8 236.4 159.2 237.5 158 C238.6 156.8 240.2 155.2 241.3 153.3 C242.4 151.4 243.3 148.7 244.2 146.6 C245.1 144.5 246 142.3 246.9 140.6 C247.8 138.9 248.8 137.3 249.5 136.6 C250.2 135.9 250.7 135.5 251.4 136.2 C252.1 136.9 253.1 139.4 253.8 140.8 C254.5 142.2 255 143.5 255.6 144.5 C256.2 145.5 256.7 146.6 257.3 146.6 C257.9 146.6 258.6 146.4 259.4 144.6 C260.2 142.8 261.3 138.2 262.2 135.5 C263.1 132.8 264.1 130.5 265 128.3 C265.9 126.1 266.9 124.5 267.9 122.5 C268.8 120.5 269.9 118.3 270.7 116.6 C271.5 114.9 272 113.4 272.6 112.3 C273.2 111.2 273.7 110.3 274.3 110 C274.9 109.7 275.6 110 276.2 110.6 C276.8 111.2 277.5 112.1 278.2 113.4 C278.9 114.7 279.8 116.7 280.5 118.2 C281.2 119.7 281.7 121 282.3 122.3 C282.9 123.6 283.6 125.4 283.9 126" fill="none" stroke="#8a5a34" stroke-width="1.25" stroke-linecap="round"/>
<path d="M82.3 223.6 L84 222.8 L85.8 223 L87.5 222.4 L88.9 222.3 L90.3 221.9 L91.8 220.4 L93.2 219.8 L94.6 221.2 L96 220.1 L97.4 220 L98.8 221.3 L100.2 220.3 L101.7 221 L103.1 220.4 L104.5 220.7 L106.3 219.9 L108.2 220.9 L109.5 222.9 L110.7 223.9 L112 225.8 L113.4 227.6 L114.8 228.4 L116.2 228.7 L117.6 227.5 L119 226.5 L120.4 225.5 L121.9 226.5 L123.3 225.4 L124.7 226 L126.1 226.6 L127.5 226.5 L128.9 227.2 L130.2 227.1 L131.4 228.8 L132.7 229.1 L134.6 229 L136.4 228 L138 224.7 L139.6 224.6 L141.1 224.6 L142.7 225.7 L144.3 225.4 L145.8 226.4 L147.4 226.4 L149 227.4 L150.5 227.8 L152.1 228.3 L153.7 228.2 L155.2 227.6 L156.8 227.5 L158.2 226.6 L159.6 226.4 L161 225.7 L162.4 225.4 L163.8 223.9 L165.2 222 L166.7 222.3 L168.1 221.5 L169.7 219.9 L171.2 217.7 L172.8 216.4 L174.4 215.3 L175.9 216.3 L177.5 215.6 L179.1 215.3 L180.6 215 L182.2 216.6 L183.8 218.1 L185.3 217.8 L186.9 220.3 L188.2 220.3 L189.4 220.4 L190.7 221.3 L192.1 223.4 L193.5 224.8 L194.9 222.1 L196.3 221.9 L198.1 219 L199.8 218.3 L201.7 216.9 L203.5 217.3 L204.8 218.2 L206 218.1 L207.3 219.8 L209.2 217.8 L211 216.5 L212.3 218.3 L213.5 218.1 L214.8 219.3 L216.1 221.2 L217.3 223.1 L218.6 223.9 L220.4 222.3 L222.3 222.4 L223.6 220.1 L224.8 220 L226.1 218.6 L227.4 218.3 L228.6 219.1 L229.9 219.8 L231.8 221.5 L233.6 222.8 L235 216.2 L236.4 209.7 L237.9 209.3 L239.3 207.6 L241.1 203.7 L242.6 207.5 L244 209.9 L245.4 207.7 L246.8 206.6 L248.7 202.6 L250.5 199.6 L252.2 200.8 L253.8 203.6 L255.7 204.9 L257.5 204.8 L258.8 205.3 L260 204.7 L261.3 203 L263.1 202.1 L265 199.9 L266.4 202.7 L267.9 204.4 L269.8 206 L271.6 207 L273.1 206.7 L274.5 207.7 L275.9 206.5 L277.3 204.6 L278.7 203.5 L280.1 199.8 L281.6 196.1 L282.8 193.3 L283.9 191.1 L285 185.3 L286.1 185" fill="none" stroke="#7c7c7c" stroke-width="1.1" stroke-linejoin="round"/>
<path d="M287.9 185.6 L289.6 187.9" fill="none" stroke="#7c7c7c" stroke-width="1.1" stroke-linejoin="round"/>
<path d="M82.3 237.7 L84 237.2 L85.8 237 L87.5 237.5 L88.9 237.3 L90.3 237.4 L91.8 238.2 L93.2 239.4 L94.6 240.3 L96 241.4 L97.4 241.6 L98.8 243.4 L100.1 244.2 L101.3 245.2 L102.6 246.4 L104.4 249.4 L106.3 253.5 L107.6 254.6 L108.8 255.8 L110.1 257 L111.4 256.4 L112.6 257.2 L113.9 258.2 L115.8 257.7 L117.6 257.1 L119.2 256.9 L120.7 255.1 L122.3 255.7 L123.9 255.5 L125.4 254.9 L127 254 L128.3 253.9 L129.5 252.6 L130.8 253.5 L132.7 251.5 L134.5 249 L136.2 246.2 L138 244.9 L139.6 244.5 L141.1 245.3 L142.7 245.4 L144.3 245.2 L145.8 245.5 L147.4 246.3 L149 246.6 L150.5 246.8 L152.1 247.6 L153.7 247.6 L155.2 245.3 L156.8 244.4 L158.2 244.7 L159.6 243.4 L161 243.2 L162.4 242.3 L163.8 241.4 L165.2 241.8 L166.7 239.7 L168.1 239.3 L169.5 237.8 L170.9 237.4 L172.3 235.6 L173.7 234.5 L175 234.3 L176.2 232.6 L177.5 232.1 L179.1 233.5 L180.6 232.8 L182.2 233.5 L183.8 234.9 L185.3 237 L186.9 237.9 L188.5 238.5 L190 239.9 L191.6 240.8 L193 243.2 L194.4 244.4 L196 245.6 L197.3 243.4 L198.5 241 L199.8 238.1 L201.7 237.4 L203.5 234.5 L204.8 235.7 L206 237.5 L207.3 237.8 L209.2 238.2 L211 240.3 L212.3 240.4 L213.5 241.3 L214.8 241 L216.1 242.1 L217.3 243.8 L218.6 244.5 L220.4 242.1 L222.3 240.3 L223.6 238 L224.8 236.2 L226.1 235 L227.4 235.8 L228.6 237.6 L229.9 237.5 L231.8 236.8 L233.6 236 L235 234.3 L236.4 230 L237.9 228.2 L239.3 226.5 L241.1 228.4 L242.6 240.8 L243.8 240.8 L244.9 238.9 L246.8 225.6 L248.7 226.2 L250.5 225.5 L252.2 228.2 L253.8 227.9 L255.7 228 L257.5 227.8 L258.8 225.6 L260 225 L261.3 222.6 L262.7 220.3 L264.1 218.7 L265.5 220.4 L266.9 223.5 L268.2 224.4 L269.4 226.8 L270.7 227.9 L272.1 228.7 L273.5 229.3 L274.9 228.3 L276.3 226.8 L277.6 225.2 L278.8 223.7 L280.1 223.3 L281.5 228.6 L282.9 235 L284.1 244.6 L285.4 251.9 L286.7 232.9 L287.6 207.4 L288.6 197 L289.5 190.6" fill="none" stroke="#7c7c7c" stroke-width="1.1" stroke-linejoin="round"/>
<path d="M82.3 230.1 L84 230.4 L85.8 230.7 L87.5 230.9 L88.9 230.9 L90.3 230.6 L91.8 230.7 L93.2 229.5 L95.1 230.8 L96.9 232.1 L98.2 232.7 L99.4 233.9 L100.7 233.8 L102 235.1 L103.2 235.6 L104.5 236.8 L106.3 238.2 L108.2 238.9 L109.5 240.1 L110.7 241.2 L112 242.9 L113.4 243 L114.8 242.5 L116.2 242.5 L117.6 241 L118.9 241.4 L120.1 240.7 L121.4 240.4 L123.2 240.9 L125.1 239.6 L126.4 239.8 L127.6 240.9 L128.9 240.9 L130.2 239.9 L131.4 240.4 L132.7 239.5 L134.6 238.8 L136.4 237.3 L138 236.7 L139.6 235.8 L141.1 235.5 L142.7 234.8 L144.3 234.7 L145.8 235.4 L147.4 235.8 L149 236.4 L150.5 236.9 L152.1 237.8 L153.7 237.4 L155.2 235.9 L156.8 236 L158.2 235 L159.6 234.4 L161 234.5 L162.4 233.5 L163.8 232.2 L165.2 231.3 L166.7 230.5 L168.1 228.7 L169.5 228.6 L170.9 226.3 L172.3 226 L173.7 224.9 L175 223.8 L176.2 224.6 L177.5 223.9 L178.8 224.6 L180 224.4 L181.3 224.9 L182.9 226.1 L184.4 228.1 L186 228.2 L187.8 229.7 L189.7 230.6 L191 232 L192.2 232.7 L193.5 234.1 L194.9 233.7 L196.3 233.3 L197.6 230.6 L198.8 229.5 L200.1 228.8 L201.3 228 L202.6 226.2 L204.4 227.6 L206.3 226.8 L207.6 227.9 L208.8 229.1 L210.1 230.3 L211.4 230 L212.6 231.2 L213.9 231.2 L215.8 232.7 L217.6 234.6 L219 234 L220.4 233.4 L221.7 231.3 L222.9 229.7 L224.2 227.9 L225.6 226.6 L227 226.3 L228.4 228.6 L229.9 229.2 L231.3 228.6 L232.7 228 L234.1 226.5 L235.5 224.9 L236.9 222.5 L238.3 220.6 L240.2 215.5 L242.1 223.1 L244 223.9 L245.4 221.7 L246.8 219.3 L248.7 216.3 L250.5 214.8 L252.2 215.5 L253.8 215.7 L255.7 216.1 L257.5 215.5 L258.9 215.5 L260.3 214.7 L261.6 213.9 L262.8 211.7 L264.1 210.3 L265.5 212.9 L266.9 214.6 L268.2 215.7 L269.4 216 L270.7 217 L272.1 218.2 L273.5 218.9 L274.9 217.2 L276.3 215.9 L277.9 213.4 L279.4 211.5 L281 210.1 L282.9 213.8 L284.8 217.2 L286.1 217.9 L287.2 203.6 L288.6 194.8 L289.3 193" fill="none" stroke="#111" stroke-width="1.9" stroke-linejoin="round"/>
<path d="M138.2 303.3 L138.6 300.2 L139.1 300.2 L139.5 294.1 L139.9 292.3 L140.4 292.4 L140.8 294.8 L141.4 291.9 L141.8 294.7 L142.1 301.1 L142.7 301.9 L143.2 297.4 L143.7 293 L144.1 288.9 L144.6 287.6 L145.1 284.7 L145.5 284.5 L145.9 282.6 L146.3 282 L146.8 281.5 L147.2 282 L147.6 282 L148.1 282.8 L148.5 285.2 L148.9 289.4 L149.4 291.7 L149.8 298.5 L150.4 304.8 L150.9 303.4 L151.3 300.2 L151.9 303.5 L152.4 305.2 L152.9 303.4 L153.3 301.9 L153.8 298.4 L154.3 294.5 L154.7 292.6 L155.2 293.5 L155.6 290.4 L156.1 290.8 L156.6 294.3 L157.1 295.8 L157.5 298.8 L158 302.8 L158.5 304.6 L158.9 303.8 L159.4 304.4 L159.9 298.7 L160.5 297 L160.9 294.7 L161.4 296.2 L161.8 300.7 L162.2 305.9 L162.6 308.8 L163 311 L163.4 304.9 L163.9 299.7 L164.4 297.6 L164.8 294.3 L165.2 292.4 L165.7 294.2 L166.1 292.4 L166.5 292.3 L166.9 291.5 L167.3 292.2 L167.8 292.2 L168.2 293.8 L168.7 294.2 L169.2 295.3 L169.7 295.8 L170.2 297 L170.7 297 L171.2 294.6 L171.8 296.2 L172.3 296.5 L172.8 297 L173.3 297 L173.8 290.9 L174.2 288.7 L174.6 286.7 L175.1 285.1 L175.5 288.2 L175.9 287.8 L176.3 288.1 L176.8 292.8 L177.3 296.1 L177.8 298.5 L178.2 300.5 L178.6 302.2 L179.1 304.4 L179.5 305.2 L179.9 305.5 L180.4 306.3 L180.8 307.2 L181.2 309.3 L181.7 309.7 L182.1 311.9 L182.6 309.1 L183 307.7 L183.5 302.8 L184 294.3 L184.4 292 L184.9 290.2 L185.3 288.8 L185.8 287.7 L186.3 286.6 L186.8 287.1 L187.2 290.5 L187.6 289.6 L187.9 294 L188.4 293.4 L188.9 296.7 L189.4 293.5 L189.8 295.7 L190.2 296.4 L190.7 298.4 L191.2 298.1 L191.7 297.8 L192.2 298 L192.7 294.1 L193.1 290.8 L193.6 290.1 L194.1 292.7 L194.5 295.5 L195.1 295.8 L195.6 297 L196 297.5 L196.5 296.3 L196.9 294.5 L197.3 297.1 L197.7 299.7 L198.1 301.3 L198.6 304.5 L199.2 308.1 L199.6 309.3 L200.1 310.2 L200.5 308.8 L201 308.2 L201.4 305.9 L201.8 306.5 L202.2 305.2 L202.8 307.5 L203.3 308.3 L203.7 309.9 L204.2 310.8 L204.6 310.4 L205 310.7 L205.4 307.7 L205.8 304.6 L206.4 303.9 L206.9 301.1 L207.4 304.1 L207.8 307.9 L208.2 309.8 L208.7 310.7 L209.2 306 L209.7 304.9 L210.2 304.8 L210.7 303.3 L211.1 305.5 L211.6 307.2 L212.1 303.4 L212.5 302 L213.1 302.4 L213.6 303.4 L214 302.9 L214.4 305.9 L214.8 306.9 L215.2 306.5 L215.7 307.5 L216.1 309.2 L216.5 310.1 L216.9 310.1 L217.3 313.1 L217.8 312.5 L218.2 314.3 L218.6 311.6 L219.1 306.7 L219.6 302.9 L220.1 300.6 L220.6 305.7 L221.2 310.6 L221.6 314.7 L222.1 319.9 L222.6 324.4 L223 329.8 L223.3 324 L223.7 318.2 L224.1 311.9 L224.6 305.7 L225.1 303.5 L225.5 302.2 L226.1 298.6 L226.6 296.1 L227.1 300.3 L227.5 301.2 L227.8 304.9 L228.2 307.2 L228.6 313.8 L229.1 316.6 L229.6 318.6 L230.2 322 L230.6 319.9 L231.1 317.9 L231.5 320.6 L232 320 L232.4 320.7 L232.8 323.4 L233.2 323.7 L233.6 324.4 L234 323.8 L234.5 326.4 L234.9 326.6 L235.4 328.2 L235.8 327.8 L236.4 326.1 L236.9 323.3 L237.4 321.4 L237.9 321.6 L238.4 323.2 L238.8 325.2 L239.2 320.5 L239.7 315.6 L240.2 312.7 L240.7 313.1 L241.1 312.5 L241.6 309.8 L242 310.1 L242.5 314.2 L243 317.2 L243.4 316 L243.9 312.2 L244.3 314 L244.8 315 L245.2 314.6 L245.6 314.2 L246.1 314 L246.5 317.3 L246.9 317.5 L247.4 317.3 L247.8 316.9 L248.2 318.9 L248.7 319.5 L249.2 321.8 L249.7 324 L250.2 325.7 L250.7 328.2 L251.1 322.6 L251.6 316.8 L252.1 322.5 L252.5 326.4 L253.1 330.2 L253.6 330.9 L254.1 325.9 L254.5 321.7 L255 318.2 L255.5 314.5 L255.9 316.8 L256.4 316.1 L256.9 318.4 L257.4 320.5 L258 321.6 L258.6 324 L259.1 322.8 L259.6 319.2 L260.2 317.3 L260.6 319.2 L261.1 320.9 L261.6 315.3 L262.1 309.8 L262.5 310.1 L262.9 308.3 L263.4 313 L263.8 318.7 L264.3 315.7 L264.8 311.8 L265.4 314.3 L265.9 314.7 L266.4 309.8 L267 304.6 L267.4 305.3 L267.9 308.4 L268.4 309.7 L268.9 315.6 L269.4 313.3 L270 312 L270.5 316.2 L271 322.5 L271.5 324.8 L272 329.2 L272.4 330 L272.9 330 L273.4 332.2 L273.8 332.1 L274.4 320.8 L274.9 316.8 L275.4 310.4 L275.9 306.3 L276.5 304 L276.9 305.5 L277.4 306.5 L277.9 312 L278.4 314.4 L278.8 316.5 L279.2 315.9 L279.6 325.3 L280.1 331.5 L280.6 325.2 L281.1 320 L281.6 317.3 L282.2 314.1 L282.8 308.7 L283.3 302.4 L283.6 299.8 L284 295.4 L284.4 295.9 L284.8 297.2 L285.2 294.9 L285.8 298.7 L286.3 301.2 L286.9 303.1 L287.4 308.2 L287.9 302.3 L288.3 298.6 L288.6 295 L289 288.9 L289.6 287.3 L290.1 281.6 L290.6 281.1" fill="none" stroke="#161616" stroke-width="1.1" stroke-linejoin="round"/>
<path d="M189.5 408.3 L189.9 416 L190.4 410.8 L191.2 409.6 L191.7 414.7 L192.5 403.1 L193 403.8 L193.5 417.3 L194.6 417.9 L195.3 417.3 L195.9 405.7 L196.8 403.1 L197.6 400.6 L198.5 399.3 L199.1 392.9 L200.4 392.2 L201.7 390.9 L203 390 L204 390.9 L204.9 391.6 L205.6 410.2 L206.2 413.4 L207.1 414.7 L207.5 398 L208.1 396.7 L208.8 398.6 L209.4 394.1 L210.1 393.5 L210.7 405.7 L211.7 407 L212.2 392.2 L213 392.9 L213.5 405.7 L214.3 412.1 L214.8 425 L215.6 433.3 L216.1 421.1 L216.9 412.1 L217.8 413.4 L218.7 410.8 L219.4 399.3 L220 401.9 L220.7 405.1 L221.6 405.7 L222.3 413.4 L223.3 405.1 L224.2 401.9 L224.8 397.4 L225.9 398 L227 399 L229.1 400.4 L231.1 401.8 L232.1 403.1 L232.9 405.8 L233.4 420.8 L233.8 431.7 L234.2 439.8 L234.8 437.1 L235.6 426.2 L236.1 414 L237 411.3 L237.9 411.9 L238.6 405.8 L239.3 408.5 L240 409.2 L240.6 405.8 L241.3 411.3 L242 411.9 L242.7 405.8 L243.8 407.2 L244.7 412.6 L245.4 411.9 L246.5 414 L247.2 420.8 L247.8 426.2 L248.4 435.7 L249.2 430.3 L249.9 426.2 L250.6 420.8 L251.2 423.5 L251.9 416.7 L252.5 412.6 L253 423.5 L253.5 419.4 L254.2 412.6 L254.6 420.8 L255.2 426.2 L256 427.6 L256.7 431.7 L257.4 435.7 L258 426.2 L259 420.8 L260.1 414 L260.6 409.9 L261.4 412.6 L262.4 408.5 L263.3 405.8 L264.2 400.4 L265.5 398.5 L266.5 400.4 L267.3 401.3 L268.4 406.5 L269.4 421.2 L270.1 431.7 L270.9 442.1 L271.7 433.8 L272.6 421.2 L273.2 414.9 L273.8 402.4 L274.2 399.1 L274.8 388.7 L275.9 385.9 L276.5 392.2 L277.7 394.5 L278.6 393.4 L279.4 398 L280.2 398 L281.1 384.1 L282 373.8 L282.8 368 L283.7 365.1 L284.3 364 L285.1 370.3 L286 372.6 L286.4 378.4 L286.9 371.5 L287.4 364.6 L288 361.7" fill="none" stroke="#222" stroke-width="1" stroke-linejoin="round"/>
<line x1="79.5" y1="14.4" x2="79.5" y2="83.4" stroke="#4a4a4a" stroke-width="1"/>
<line x1="75.7" y1="14.4" x2="79.5" y2="14.4" stroke="#4a4a4a" stroke-width="1"/>
<text x="71.9" y="17.7" font-size="9.4" text-anchor="end" fill="#1a1a1a">0.8</text>
<line x1="75.7" y1="37.4" x2="79.5" y2="37.4" stroke="#4a4a4a" stroke-width="1"/>
<text x="71.9" y="40.7" font-size="9.4" text-anchor="end" fill="#1a1a1a">0.6</text>
<line x1="75.7" y1="60.4" x2="79.5" y2="60.4" stroke="#4a4a4a" stroke-width="1"/>
<text x="71.9" y="63.7" font-size="9.4" text-anchor="end" fill="#1a1a1a">0.4</text>
<line x1="75.7" y1="83.4" x2="79.5" y2="83.4" stroke="#4a4a4a" stroke-width="1"/>
<text x="71.9" y="86.7" font-size="9.4" text-anchor="end" fill="#1a1a1a">0.2</text>
<line x1="299.6" y1="110.9" x2="299.6" y2="183.1" stroke="#4a4a4a" stroke-width="1"/>
<line x1="299.6" y1="110.9" x2="303.4" y2="110.9" stroke="#4a4a4a" stroke-width="1"/>
<text x="307" y="114.2" font-size="9.4" text-anchor="start" fill="#1a1a1a">6</text>
<line x1="299.6" y1="128.9" x2="303.4" y2="128.9" stroke="#4a4a4a" stroke-width="1"/>
<text x="307" y="132.2" font-size="9.4" text-anchor="start" fill="#1a1a1a">5</text>
<line x1="299.6" y1="147" x2="303.4" y2="147" stroke="#4a4a4a" stroke-width="1"/>
<text x="307" y="150.3" font-size="9.4" text-anchor="start" fill="#1a1a1a">4</text>
<line x1="299.6" y1="165.1" x2="303.4" y2="165.1" stroke="#4a4a4a" stroke-width="1"/>
<text x="307" y="168.4" font-size="9.4" text-anchor="start" fill="#1a1a1a">3</text>
<line x1="299.6" y1="183.1" x2="303.4" y2="183.1" stroke="#4a4a4a" stroke-width="1"/>
<text x="307" y="186.4" font-size="9.4" text-anchor="start" fill="#1a1a1a">2</text>
<line x1="79.5" y1="188.6" x2="79.5" y2="269.3" stroke="#4a4a4a" stroke-width="1"/>
<line x1="75.7" y1="188.6" x2="79.5" y2="188.6" stroke="#4a4a4a" stroke-width="1"/>
<text x="71.9" y="191.9" font-size="9.4" text-anchor="end" fill="#1a1a1a">2.5</text>
<line x1="75.7" y1="228.9" x2="79.5" y2="228.9" stroke="#4a4a4a" stroke-width="1"/>
<text x="71.9" y="232.2" font-size="9.4" text-anchor="end" fill="#1a1a1a">0.0</text>
<line x1="75.7" y1="269.3" x2="79.5" y2="269.3" stroke="#4a4a4a" stroke-width="1"/>
<text x="71.9" y="272.6" font-size="9.4" text-anchor="end" fill="#1a1a1a">-2.5</text>
<line x1="299.6" y1="275.7" x2="299.6" y2="356.3" stroke="#4a4a4a" stroke-width="1"/>
<line x1="299.6" y1="275.7" x2="303.4" y2="275.7" stroke="#4a4a4a" stroke-width="1"/>
<text x="307" y="279" font-size="9.4" text-anchor="start" fill="#1a1a1a">0.5</text>
<line x1="299.6" y1="302.6" x2="303.4" y2="302.6" stroke="#4a4a4a" stroke-width="1"/>
<text x="307" y="305.9" font-size="9.4" text-anchor="start" fill="#1a1a1a">0.0</text>
<line x1="299.6" y1="329.4" x2="303.4" y2="329.4" stroke="#4a4a4a" stroke-width="1"/>
<text x="307" y="332.8" font-size="9.4" text-anchor="start" fill="#1a1a1a">-0.5</text>
<line x1="299.6" y1="356.3" x2="303.4" y2="356.3" stroke="#4a4a4a" stroke-width="1"/>
<text x="307" y="359.6" font-size="9.4" text-anchor="start" fill="#1a1a1a">-1.0</text>
<line x1="79.5" y1="376.4" x2="79.5" y2="443.4" stroke="#4a4a4a" stroke-width="1"/>
<line x1="75.7" y1="376.4" x2="79.5" y2="376.4" stroke="#4a4a4a" stroke-width="1"/>
<text x="71.9" y="379.7" font-size="9.4" text-anchor="end" fill="#1a1a1a">0.5</text>
<line x1="75.7" y1="398.7" x2="79.5" y2="398.7" stroke="#4a4a4a" stroke-width="1"/>
<text x="71.9" y="402" font-size="9.4" text-anchor="end" fill="#1a1a1a">0.0</text>
<line x1="75.7" y1="421.1" x2="79.5" y2="421.1" stroke="#4a4a4a" stroke-width="1"/>
<text x="71.9" y="424.4" font-size="9.4" text-anchor="end" fill="#1a1a1a">-0.5</text>
<line x1="75.7" y1="443.4" x2="79.5" y2="443.4" stroke="#4a4a4a" stroke-width="1"/>
<text x="71.9" y="446.7" font-size="9.4" text-anchor="end" fill="#1a1a1a">-1.0</text>
<line x1="87.7" y1="447" x2="289.3" y2="447" stroke="#4a4a4a" stroke-width="1"/>
<line x1="87.7" y1="447" x2="87.7" y2="450.6" stroke="#4a4a4a" stroke-width="1"/>
<line x1="112.9" y1="447" x2="112.9" y2="450.6" stroke="#4a4a4a" stroke-width="1"/>
<line x1="138.1" y1="447" x2="138.1" y2="450.6" stroke="#4a4a4a" stroke-width="1"/>
<line x1="163.3" y1="447" x2="163.3" y2="450.6" stroke="#4a4a4a" stroke-width="1"/>
<line x1="188.5" y1="447" x2="188.5" y2="450.6" stroke="#4a4a4a" stroke-width="1"/>
<line x1="213.7" y1="447" x2="213.7" y2="450.6" stroke="#4a4a4a" stroke-width="1"/>
<line x1="238.9" y1="447" x2="238.9" y2="450.6" stroke="#4a4a4a" stroke-width="1"/>
<line x1="264.1" y1="447" x2="264.1" y2="450.6" stroke="#4a4a4a" stroke-width="1"/>
<line x1="289.3" y1="447" x2="289.3" y2="450.6" stroke="#4a4a4a" stroke-width="1"/>
<text x="87.7" y="460.5" font-size="9.4" text-anchor="middle" fill="#1a1a1a">0</text>
<text x="138.1" y="460.5" font-size="9.4" text-anchor="middle" fill="#1a1a1a">500</text>
<text x="188.5" y="460.5" font-size="9.4" text-anchor="middle" fill="#1a1a1a">1000</text>
<text x="238.9" y="460.5" font-size="9.4" text-anchor="middle" fill="#1a1a1a">1500</text>
<text x="289.3" y="460.5" font-size="9.4" text-anchor="middle" fill="#1a1a1a">2000</text>
<text x="188" y="475.5" font-size="10" text-anchor="middle" fill="#1a1a1a">Year (AD)</text>
<text x="88" y="24.2" font-size="11" fill="#1a1a1a">a</text>
<text x="88" y="122.8" font-size="11" fill="#1a1a1a">b</text>
<text x="88" y="200.3" font-size="11" fill="#1a1a1a">c</text>
<text x="88" y="297.4" font-size="11" fill="#1a1a1a">d</text>
<text x="88" y="388.6" font-size="11" fill="#1a1a1a">e</text>
<text x="199.6" y="8.9" font-size="10.5" font-style="italic" text-anchor="middle" fill="#1a1a1a">MCA</text>
<line x1="187" y1="10.5" x2="212" y2="10.5" stroke="#1a1a1a" stroke-width="0.9"/>
<text x="254" y="8.8" font-size="10.5" font-style="italic" text-anchor="middle" fill="#1a1a1a">LIA</text>
<line x1="245" y1="10.4" x2="263" y2="10.4" stroke="#1a1a1a" stroke-width="0.9"/>
<line x1="19.7" y1="19" x2="19.7" y2="267" stroke="#777" stroke-width="1"/>
<path d="M19.7 13 L23.4 20.2 L16 20.2 Z" fill="#111"/>
<text transform="translate(11.5 128.5) rotate(-90)" font-size="15" font-style="italic" text-anchor="middle" fill="#1a1a1a">Dry</text>
<text transform="translate(44.3 49.3) rotate(-90)" font-size="10.3" text-anchor="middle" fill="#1a1a1a">Big L. Salinity (g L<tspan dy="-3.5" font-size="6.5">-1</tspan><tspan dy="3.5">)</tspan></text>
<text transform="translate(336.2 149.2) rotate(90)" font-size="10.3" text-anchor="middle" fill="#1a1a1a">RLDM log(Ca/Ti)</text>
<text transform="translate(44.2 228) rotate(-90)" font-size="10" text-anchor="middle" fill="#1a1a1a">&#948;<tspan dy="-3.5" font-size="6.9">18</tspan><tspan dy="3.5">O z-scores</tspan></text>
<text transform="translate(340.6 317.5) rotate(90)" font-size="10" text-anchor="middle" fill="#1a1a1a">PDO temp.</text>
<text transform="translate(329.6 319) rotate(90)" font-size="10" text-anchor="middle" fill="#1a1a1a">anomaly (&#176;C)</text>
<text transform="translate(37.5 408.2) rotate(-90)" font-size="10.2" text-anchor="middle" fill="#1a1a1a">Radiative forcing</text>
<text transform="translate(49 406.8) rotate(-90)" font-size="10" text-anchor="middle" fill="#1a1a1a">anomaly (Wm<tspan dy="-3.5" font-size="6.5">-2</tspan><tspan dy="3.5">)</tspan></text>
</svg>
</body></html>
